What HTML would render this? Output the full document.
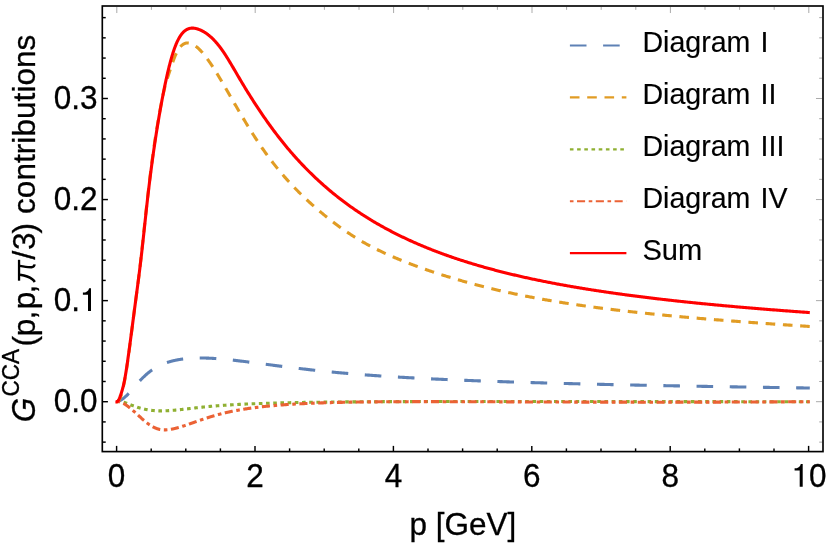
<!DOCTYPE html>
<html><head><meta charset="utf-8"><title>plot</title>
<style>
html,body{margin:0;padding:0;background:#fff;}
body{width:830px;height:547px;overflow:hidden;}
svg{display:block;will-change:transform;}
text{font-family:"Liberation Sans",sans-serif;fill:#000;}
.t{font-size:31.5px;stroke:#000;stroke-width:0.3px;}
.lg{font-size:28.6px;stroke:#000;stroke-width:0.15px;}
.tk{stroke:#000;stroke-width:1.45;}
.tg{stroke:#555;stroke-width:0.5;}
.c{fill:none;stroke-width:3.1;stroke-linejoin:round;}
</style></head><body>
<svg width="830" height="547" viewBox="0 0 830 547">
<rect width="830" height="547" fill="#fff"/>
<g>
<path class="c" stroke="#5e81b5" stroke-dasharray="16.6 16.6" stroke-dashoffset="1.6" d="M116.60,401.70L116.85,401.65L117.10,401.60L117.35,401.54L117.60,401.47L117.85,401.39L118.10,401.31L118.35,401.23L118.60,401.14L118.85,401.04L119.10,400.93L119.35,400.82L119.60,400.71L119.85,400.59L120.10,400.46L120.35,400.33L120.60,400.19L120.85,400.05L121.10,399.90L121.35,399.75L121.60,399.59L121.85,399.43L122.10,399.26L122.35,399.09L122.60,398.91L122.85,398.73L123.10,398.55L123.35,398.36L123.60,398.16L123.85,397.97L124.10,397.76L124.35,397.56L124.60,397.35L124.85,397.14L125.10,396.92L125.35,396.70L125.60,396.47L125.85,396.24L126.10,396.01L126.35,395.78L126.60,395.54L126.85,395.30L127.10,395.05L127.35,394.80L127.60,394.55L127.85,394.30L128.10,394.04L128.35,393.78L128.60,393.52L128.85,393.25L129.10,392.98L129.35,392.71L129.60,392.43L129.85,392.16L130.10,391.88L130.35,391.60L130.60,391.32L130.85,391.03L131.10,390.75L131.35,390.46L131.60,390.18L131.85,389.89L132.10,389.60L132.35,389.31L132.60,389.02L132.85,388.73L133.10,388.44L133.35,388.15L133.60,387.86L133.85,387.57L134.10,387.28L134.35,386.99L134.60,386.70L134.85,386.42L135.10,386.13L135.35,385.84L135.60,385.55L135.85,385.27L136.10,384.98L136.35,384.69L136.60,384.41L136.85,384.13L137.10,383.85L137.35,383.56L137.60,383.28L137.85,383.01L138.10,382.73L138.35,382.45L138.60,382.18L138.85,381.90L139.10,381.63L139.35,381.36L139.60,381.09L139.85,380.82L140.10,380.56L140.35,380.29L140.60,380.03L140.85,379.77L141.10,379.51L141.35,379.25L141.60,378.99L141.85,378.74L142.10,378.48L142.35,378.23L142.60,377.98L142.85,377.74L143.10,377.49L143.35,377.25L143.60,377.00L143.85,376.76L144.10,376.53L144.35,376.29L144.60,376.05L144.85,375.82L145.10,375.59L145.35,375.36L145.60,375.13L145.85,374.91L146.10,374.69L146.35,374.47L146.60,374.25L146.85,374.03L147.10,373.81L147.35,373.60L147.60,373.39L147.85,373.18L148.10,372.97L148.35,372.77L148.60,372.57L148.85,372.36L149.10,372.16L149.35,371.97L149.60,371.77L149.85,371.58L150.10,371.39L150.35,371.20L150.60,371.01L150.85,370.83L151.10,370.65L151.35,370.46L151.60,370.29L151.85,370.11L152.10,369.93L152.35,369.76L152.60,369.59L152.85,369.42L153.10,369.26L153.35,369.09L153.60,368.93L153.85,368.77L154.10,368.61L154.35,368.45L154.60,368.30L154.85,368.14L155.10,367.99L155.35,367.84L155.60,367.69L155.85,367.55L156.10,367.40L156.35,367.26L156.60,367.12L156.85,366.98L157.10,366.84L157.35,366.71L157.60,366.57L157.85,366.44L158.10,366.31L158.35,366.18L158.60,366.05L158.85,365.92L159.10,365.80L159.35,365.68L159.60,365.55L159.85,365.43L160.10,365.31L160.35,365.20L160.60,365.08L160.85,364.97L161.10,364.85L161.35,364.74L161.60,364.63L161.85,364.52L162.10,364.41L162.35,364.31L162.60,364.20L162.85,364.10L163.10,363.99L163.35,363.89L163.60,363.79L163.85,363.69L164.10,363.60L164.35,363.50L164.60,363.40L164.85,363.31L165.10,363.22L165.35,363.13L165.60,363.04L165.85,362.95L166.10,362.86L166.35,362.77L166.60,362.68L166.85,362.60L167.10,362.52L167.35,362.43L167.60,362.35L167.85,362.27L168.10,362.19L168.35,362.11L168.60,362.03L168.85,361.96L169.10,361.88L169.35,361.81L169.60,361.73L169.85,361.66L170.10,361.59L170.35,361.52L170.60,361.45L170.85,361.38L171.10,361.31L171.35,361.25L171.60,361.18L171.85,361.11L172.10,361.05L172.35,360.99L172.60,360.92L172.85,360.86L173.10,360.80L173.35,360.74L173.60,360.68L173.85,360.62L174.10,360.57L174.35,360.51L174.60,360.45L174.85,360.40L175.10,360.35L175.35,360.29L175.60,360.24L175.85,360.19L176.10,360.14L176.35,360.09L176.60,360.04L176.85,359.99L177.10,359.94L177.35,359.89L177.60,359.85L177.85,359.80L178.10,359.75L178.35,359.71L178.60,359.67L178.85,359.62L179.10,359.58L179.35,359.54L179.60,359.50L179.85,359.46L180.10,359.42L180.35,359.38L180.60,359.34L180.85,359.30L181.10,359.27L181.35,359.23L181.60,359.19L181.85,359.16L182.10,359.13L182.35,359.09L182.60,359.06L182.85,359.03L183.10,358.99L183.35,358.96L183.60,358.93L183.85,358.90L184.10,358.87L184.35,358.84L184.60,358.81L184.85,358.79L185.10,358.76L185.35,358.73L185.60,358.71L185.85,358.68L186.10,358.65L186.35,358.63L186.60,358.61L186.85,358.58L187.10,358.56L187.35,358.54L187.60,358.51L187.85,358.49L188.10,358.47L188.35,358.45L188.60,358.43L188.85,358.41L189.10,358.39L189.35,358.37L189.60,358.36L189.85,358.34L190.10,358.32L190.35,358.31L190.60,358.29L190.85,358.27L191.10,358.26L191.35,358.24L191.60,358.23L191.85,358.22L192.10,358.20L192.35,358.19L192.60,358.18L192.85,358.17L193.10,358.15L193.35,358.14L193.60,358.13L193.85,358.12L194.10,358.11L194.35,358.10L194.60,358.09L194.85,358.08L195.10,358.08L195.35,358.07L195.60,358.06L195.85,358.05L196.10,358.05L196.35,358.04L196.60,358.04L196.85,358.03L197.10,358.02L197.35,358.02L197.60,358.02L197.85,358.01L198.10,358.01L198.35,358.01L198.60,358.00L198.85,358.00L199.10,358.00L199.35,358.00L199.60,357.99L199.85,357.99L200.10,357.99L200.35,357.99L200.60,357.99L200.85,357.99L201.10,357.99L201.35,357.99L201.60,358.00L201.85,358.00L202.10,358.00L202.35,358.00L202.60,358.01L202.85,358.01L203.10,358.01L203.35,358.02L203.60,358.02L203.85,358.02L204.10,358.03L204.35,358.03L204.60,358.04L204.85,358.04L205.10,358.05L205.35,358.06L205.60,358.06L205.85,358.07L206.10,358.08L206.35,358.08L206.60,358.09L206.85,358.10L207.10,358.11L207.35,358.12L207.60,358.12L207.85,358.13L208.10,358.14L208.35,358.15L208.60,358.16L208.85,358.17L209.10,358.18L209.35,358.19L209.60,358.20L209.85,358.22L210.10,358.23L210.35,358.24L210.60,358.25L210.85,358.26L211.10,358.28L211.35,358.29L211.60,358.30L211.85,358.32L212.10,358.33L212.35,358.34L212.60,358.36L212.85,358.37L213.10,358.39L213.35,358.40L213.60,358.42L213.85,358.43L214.10,358.45L214.35,358.46L214.60,358.48L214.85,358.49L215.10,358.51L215.35,358.53L215.60,358.54L215.85,358.56L216.10,358.58L216.35,358.60L216.60,358.61L216.85,358.63L217.10,358.65L217.35,358.67L217.60,358.69L217.85,358.71L218.10,358.72L218.35,358.74L218.60,358.76L218.85,358.78L219.10,358.80L219.35,358.82L219.60,358.84L219.85,358.86L220.10,358.88L220.35,358.90L220.60,358.93L220.85,358.95L221.10,358.97L221.35,358.99L221.60,359.01L221.85,359.03L222.10,359.06L222.35,359.08L222.60,359.10L222.85,359.12L223.10,359.14L223.35,359.17L223.60,359.19L223.85,359.21L224.10,359.24L224.35,359.26L224.60,359.28L224.85,359.31L225.10,359.33L225.35,359.36L225.60,359.38L225.85,359.40L226.10,359.43L226.35,359.45L226.60,359.48L226.85,359.50L227.10,359.53L227.35,359.55L227.60,359.58L227.85,359.60L228.10,359.63L228.35,359.66L228.60,359.68L228.85,359.71L229.10,359.73L229.35,359.76L229.60,359.79L229.85,359.81L230.00,359.83L231.00,359.94L232.00,360.05L233.00,360.16L234.00,360.27L235.00,360.38L236.00,360.50L237.00,360.61L238.00,360.73L239.00,360.85L240.00,360.97L241.00,361.09L242.00,361.21L243.00,361.33L244.00,361.46L245.00,361.58L246.00,361.71L247.00,361.83L248.00,361.96L249.00,362.09L250.00,362.22L251.00,362.34L252.00,362.47L253.00,362.60L254.00,362.73L255.00,362.86L256.00,362.99L257.00,363.12L258.00,363.25L259.00,363.38L260.00,363.51L261.00,363.64L262.00,363.77L263.00,363.90L264.00,364.04L265.00,364.17L266.00,364.30L267.00,364.43L268.00,364.56L269.00,364.69L270.00,364.82L271.00,364.95L272.00,365.08L273.00,365.21L274.00,365.34L275.00,365.47L276.00,365.60L277.00,365.73L278.00,365.86L279.00,365.98L280.00,366.11L281.00,366.24L282.00,366.37L283.00,366.49L284.00,366.62L285.00,366.75L286.00,366.87L287.00,367.00L288.00,367.12L289.00,367.25L290.00,367.37L291.00,367.49L292.00,367.62L293.00,367.74L294.00,367.86L295.00,367.98L296.00,368.10L297.00,368.22L298.00,368.34L299.00,368.46L300.00,368.58L301.00,368.70L302.00,368.81L303.00,368.93L304.00,369.05L305.00,369.16L306.00,369.28L307.00,369.39L308.00,369.50L309.00,369.62L310.00,369.73L311.00,369.84L312.00,369.95L313.00,370.06L314.00,370.17L315.00,370.28L316.00,370.39L317.00,370.50L318.00,370.60L319.00,370.71L320.00,370.82L321.00,370.92L322.00,371.03L323.00,371.13L324.00,371.23L325.00,371.34L326.00,371.44L327.00,371.54L328.00,371.64L329.00,371.74L330.00,371.84L331.00,371.94L332.00,372.03L333.00,372.13L334.00,372.23L335.00,372.32L336.00,372.42L337.00,372.51L338.00,372.60L339.00,372.70L340.00,372.79L341.00,372.88L342.00,372.97L343.00,373.06L344.00,373.15L345.00,373.24L346.00,373.33L347.00,373.41L348.00,373.50L349.00,373.59L350.00,373.67L351.00,373.75L352.00,373.84L353.00,373.92L354.00,374.00L355.00,374.09L356.00,374.17L357.00,374.25L358.00,374.33L359.00,374.41L360.00,374.48L361.00,374.56L362.00,374.64L363.00,374.72L364.00,374.79L365.00,374.87L366.00,374.94L367.00,375.02L368.00,375.09L369.00,375.16L370.00,375.24L371.00,375.31L372.00,375.38L373.00,375.45L374.00,375.52L375.00,375.59L376.00,375.66L377.00,375.73L378.00,375.80L379.00,375.87L380.00,375.94L381.00,376.00L382.00,376.07L383.00,376.14L384.00,376.20L385.00,376.27L386.00,376.33L387.00,376.40L388.00,376.46L389.00,376.52L390.00,376.59L391.00,376.65L392.00,376.71L393.00,376.77L394.00,376.83L395.00,376.89L396.00,376.95L397.00,377.01L398.00,377.07L399.00,377.13L400.00,377.19L401.00,377.25L402.00,377.31L403.00,377.37L404.00,377.42L405.00,377.48L406.00,377.54L407.00,377.59L408.00,377.65L409.00,377.70L410.00,377.76L411.00,377.81L412.00,377.87L413.00,377.92L414.00,377.98L415.00,378.03L416.00,378.08L417.00,378.14L418.00,378.19L419.00,378.24L420.00,378.29L421.00,378.34L422.00,378.39L423.00,378.44L424.00,378.49L425.00,378.54L426.00,378.59L427.00,378.64L428.00,378.69L429.00,378.74L430.00,378.79L431.00,378.84L432.00,378.89L433.00,378.93L434.00,378.98L435.00,379.03L436.00,379.08L437.00,379.12L438.00,379.17L439.00,379.22L440.00,379.26L441.00,379.31L442.00,379.35L443.00,379.40L444.00,379.44L445.00,379.49L446.00,379.53L447.00,379.57L448.00,379.62L449.00,379.66L450.00,379.71L451.00,379.75L452.00,379.79L453.00,379.83L454.00,379.88L455.00,379.92L456.00,379.96L457.00,380.00L458.00,380.04L459.00,380.08L460.00,380.12L461.00,380.17L462.00,380.21L463.00,380.25L464.00,380.29L465.00,380.33L466.00,380.37L467.00,380.41L468.00,380.44L469.00,380.48L470.00,380.52L471.00,380.56L472.00,380.60L473.00,380.64L474.00,380.68L475.00,380.71L476.00,380.75L477.00,380.79L478.00,380.83L479.00,380.86L480.00,380.90L481.00,380.94L482.00,380.97L483.00,381.01L484.00,381.05L485.00,381.08L486.00,381.12L487.00,381.15L488.00,381.19L489.00,381.22L490.00,381.26L491.00,381.29L492.00,381.33L493.00,381.36L494.00,381.40L495.00,381.43L496.00,381.47L497.00,381.50L498.00,381.53L499.00,381.57L500.00,381.60L501.00,381.63L502.00,381.67L503.00,381.70L504.00,381.73L505.00,381.77L506.00,381.80L507.00,381.83L508.00,381.86L509.00,381.90L510.00,381.93L511.00,381.96L512.00,381.99L513.00,382.02L514.00,382.05L515.00,382.09L516.00,382.12L517.00,382.15L518.00,382.18L519.00,382.21L520.00,382.24L521.00,382.27L522.00,382.30L523.00,382.33L524.00,382.36L525.00,382.39L526.00,382.42L527.00,382.45L528.00,382.48L529.00,382.51L530.00,382.54L531.00,382.57L532.00,382.60L533.00,382.63L534.00,382.65L535.00,382.68L536.00,382.71L537.00,382.74L538.00,382.77L539.00,382.80L540.00,382.82L541.00,382.85L542.00,382.88L543.00,382.91L544.00,382.94L545.00,382.96L546.00,382.99L547.00,383.02L548.00,383.05L549.00,383.07L550.00,383.10L551.00,383.13L552.00,383.15L553.00,383.18L554.00,383.21L555.00,383.23L556.00,383.26L557.00,383.29L558.00,383.31L559.00,383.34L560.00,383.36L561.00,383.39L562.00,383.42L563.00,383.44L564.00,383.47L565.00,383.49L566.00,383.52L567.00,383.54L568.00,383.57L569.00,383.59L570.00,383.62L571.00,383.64L572.00,383.67L573.00,383.69L574.00,383.72L575.00,383.74L576.00,383.77L577.00,383.79L578.00,383.82L579.00,383.84L580.00,383.86L581.00,383.89L582.00,383.91L583.00,383.94L584.00,383.96L585.00,383.98L586.00,384.01L587.00,384.03L588.00,384.06L589.00,384.08L590.00,384.10L591.00,384.13L592.00,384.15L593.00,384.17L594.00,384.19L595.00,384.22L596.00,384.24L597.00,384.26L598.00,384.29L599.00,384.31L600.00,384.33L601.00,384.35L602.00,384.38L603.00,384.40L604.00,384.42L605.00,384.44L606.00,384.47L607.00,384.49L608.00,384.51L609.00,384.53L610.00,384.55L611.00,384.58L612.00,384.60L613.00,384.62L614.00,384.64L615.00,384.66L616.00,384.68L617.00,384.71L618.00,384.73L619.00,384.75L620.00,384.77L621.00,384.79L622.00,384.81L623.00,384.83L624.00,384.85L625.00,384.87L626.00,384.90L627.00,384.92L628.00,384.94L629.00,384.96L630.00,384.98L631.00,385.00L632.00,385.02L633.00,385.04L634.00,385.06L635.00,385.08L636.00,385.10L637.00,385.12L638.00,385.14L639.00,385.16L640.00,385.18L641.00,385.20L642.00,385.22L643.00,385.24L644.00,385.26L645.00,385.28L646.00,385.30L647.00,385.32L648.00,385.34L649.00,385.36L650.00,385.38L651.00,385.40L652.00,385.42L653.00,385.44L654.00,385.46L655.00,385.48L656.00,385.50L657.00,385.51L658.00,385.53L659.00,385.55L660.00,385.57L661.00,385.59L662.00,385.61L663.00,385.63L664.00,385.65L665.00,385.67L666.00,385.69L667.00,385.70L668.00,385.72L669.00,385.74L670.00,385.76L671.00,385.78L672.00,385.80L673.00,385.82L674.00,385.83L675.00,385.85L676.00,385.87L677.00,385.89L678.00,385.91L679.00,385.92L680.00,385.94L681.00,385.96L682.00,385.98L683.00,386.00L684.00,386.02L685.00,386.03L686.00,386.05L687.00,386.07L688.00,386.09L689.00,386.10L690.00,386.12L691.00,386.14L692.00,386.16L693.00,386.17L694.00,386.19L695.00,386.21L696.00,386.23L697.00,386.24L698.00,386.26L699.00,386.28L700.00,386.30L701.00,386.31L702.00,386.33L703.00,386.35L704.00,386.37L705.00,386.38L706.00,386.40L707.00,386.42L708.00,386.43L709.00,386.45L710.00,386.47L711.00,386.49L712.00,386.50L713.00,386.52L714.00,386.54L715.00,386.55L716.00,386.57L717.00,386.59L718.00,386.60L719.00,386.62L720.00,386.64L721.00,386.65L722.00,386.67L723.00,386.69L724.00,386.70L725.00,386.72L726.00,386.74L727.00,386.75L728.00,386.77L729.00,386.78L730.00,386.80L731.00,386.82L732.00,386.83L733.00,386.85L734.00,386.87L735.00,386.88L736.00,386.90L737.00,386.91L738.00,386.93L739.00,386.95L740.00,386.96L741.00,386.98L742.00,386.99L743.00,387.01L744.00,387.03L745.00,387.04L746.00,387.06L747.00,387.07L748.00,387.09L749.00,387.11L750.00,387.12L751.00,387.14L752.00,387.15L753.00,387.17L754.00,387.18L755.00,387.20L756.00,387.21L757.00,387.23L758.00,387.25L759.00,387.26L760.00,387.28L761.00,387.29L762.00,387.31L763.00,387.32L764.00,387.34L765.00,387.35L766.00,387.37L767.00,387.38L768.00,387.40L769.00,387.41L770.00,387.43L771.00,387.45L772.00,387.46L773.00,387.48L774.00,387.49L775.00,387.51L776.00,387.52L777.00,387.54L778.00,387.55L779.00,387.57L780.00,387.58L781.00,387.60L782.00,387.61L783.00,387.63L784.00,387.64L785.00,387.66L786.00,387.67L787.00,387.69L788.00,387.70L789.00,387.71L790.00,387.73L791.00,387.74L792.00,387.76L793.00,387.77L794.00,387.79L795.00,387.80L796.00,387.82L797.00,387.83L798.00,387.85L799.00,387.86L800.00,387.88L801.00,387.89L802.00,387.91L803.00,387.92L804.00,387.93L805.00,387.95L806.00,387.96L807.00,387.98L808.00,387.99L809.00,388.01L809.80,388.02"/>
<path class="c" stroke="#e19c24" stroke-dasharray="9.6 7.7" d="M116.60,401.70L116.85,401.74L117.10,401.74L117.35,401.69L117.60,401.59L117.85,401.45L118.10,401.27L118.35,401.03L118.60,400.75L118.85,400.43L119.10,400.06L119.35,399.64L119.60,399.17L119.85,398.67L120.10,398.11L120.35,397.51L120.60,396.86L120.85,396.17L121.10,395.44L121.35,394.66L121.60,393.84L121.85,392.97L122.10,392.07L122.35,391.12L122.60,390.12L122.85,389.09L123.10,388.01L123.35,386.90L123.60,385.74L123.85,384.54L124.10,383.31L124.35,382.03L124.60,380.72L124.85,379.36L125.10,377.97L125.35,376.55L125.60,375.08L125.85,373.58L126.10,372.05L126.35,370.48L126.60,368.87L126.85,367.23L127.10,365.56L127.35,363.85L127.60,362.11L127.85,360.35L128.10,358.56L128.35,356.74L128.60,354.91L128.85,353.05L129.10,351.18L129.35,349.29L129.60,347.39L129.85,345.48L130.10,343.56L130.35,341.62L130.60,339.69L130.85,337.74L131.10,335.79L131.35,333.84L131.60,331.88L131.85,329.93L132.10,327.97L132.35,326.01L132.60,324.06L132.85,322.11L133.10,320.17L133.35,318.23L133.60,316.29L133.85,314.37L134.10,312.45L134.35,310.53L134.60,308.63L134.85,306.74L135.10,304.85L135.35,302.98L135.60,301.11L135.85,299.25L136.10,297.39L136.35,295.52L136.60,293.65L136.85,291.78L137.10,289.89L137.35,288.00L137.60,286.09L137.85,284.16L138.10,282.22L138.35,280.26L138.60,278.28L138.85,276.27L139.10,274.24L139.35,272.19L139.60,270.10L139.85,267.99L140.10,265.85L140.35,263.68L140.60,261.48L140.85,259.25L141.10,257.01L141.35,254.74L141.60,252.46L141.85,250.16L142.10,247.85L142.35,245.53L142.60,243.20L142.85,240.86L143.10,238.52L143.35,236.18L143.60,233.84L143.85,231.49L144.10,229.16L144.35,226.82L144.60,224.49L144.85,222.17L145.10,219.86L145.35,217.56L145.60,215.27L145.85,212.99L146.10,210.72L146.35,208.46L146.60,206.22L146.85,203.99L147.10,201.77L147.35,199.56L147.60,197.37L147.85,195.20L148.10,193.04L148.35,190.89L148.60,188.76L148.85,186.64L149.10,184.54L149.35,182.46L149.60,180.39L149.85,178.34L150.10,176.31L150.35,174.29L150.60,172.29L150.85,170.31L151.10,168.35L151.35,166.40L151.60,164.48L151.85,162.57L152.10,160.68L152.35,158.80L152.60,156.95L152.85,155.12L153.10,153.30L153.35,151.50L153.60,149.73L153.85,147.97L154.10,146.23L154.35,144.52L154.60,142.82L154.85,141.14L155.10,139.48L155.35,137.84L155.60,136.23L155.85,134.63L156.10,133.04L156.35,131.48L156.60,129.93L156.85,128.40L157.10,126.89L157.35,125.39L157.60,123.90L157.85,122.44L158.10,120.98L158.35,119.54L158.60,118.11L158.85,116.70L159.10,115.29L159.35,113.90L159.60,112.53L159.85,111.16L160.10,109.80L160.35,108.46L160.60,107.12L160.85,105.80L161.10,104.50L161.35,103.20L161.60,101.93L161.85,100.67L162.10,99.43L162.35,98.20L162.60,97.00L162.85,95.82L163.10,94.65L163.35,93.51L163.60,92.39L163.85,91.30L164.10,90.23L164.35,89.18L164.60,88.16L164.85,87.16L165.10,86.19L165.35,85.24L165.60,84.32L165.85,83.43L166.10,82.55L166.35,81.69L166.60,80.85L166.85,80.03L167.10,79.22L167.35,78.42L167.60,77.63L167.85,76.86L168.10,76.09L168.35,75.33L168.60,74.57L168.85,73.82L169.10,73.08L169.35,72.33L169.60,71.59L169.85,70.84L170.10,70.09L170.35,69.35L170.60,68.60L170.85,67.85L171.10,67.11L171.35,66.36L171.60,65.62L171.85,64.89L172.10,64.15L172.35,63.43L172.60,62.71L172.85,61.99L173.10,61.28L173.35,60.58L173.60,59.89L173.85,59.21L174.10,58.55L174.35,57.89L174.60,57.25L174.85,56.62L175.10,56.01L175.35,55.42L175.60,54.84L175.85,54.28L176.10,53.74L176.35,53.21L176.60,52.70L176.85,52.21L177.10,51.73L177.35,51.27L177.60,50.82L177.85,50.39L178.10,49.97L178.35,49.56L178.60,49.17L178.85,48.80L179.10,48.44L179.35,48.09L179.60,47.75L179.85,47.43L180.10,47.12L180.35,46.83L180.60,46.55L180.85,46.27L181.10,46.02L181.35,45.77L181.60,45.53L181.85,45.31L182.10,45.10L182.35,44.89L182.60,44.70L182.85,44.52L183.10,44.36L183.35,44.20L183.60,44.05L183.85,43.91L184.10,43.78L184.35,43.66L184.60,43.55L184.85,43.45L185.10,43.36L185.35,43.28L185.60,43.21L185.85,43.14L186.10,43.09L186.35,43.04L186.60,43.00L186.85,42.97L187.10,42.95L187.35,42.94L187.60,42.93L187.85,42.93L188.10,42.94L188.35,42.95L188.60,42.98L188.85,43.01L189.10,43.04L189.35,43.09L189.60,43.14L189.85,43.19L190.10,43.26L190.35,43.33L190.60,43.40L190.85,43.48L191.10,43.57L191.35,43.67L191.60,43.77L191.85,43.87L192.10,43.98L192.35,44.10L192.60,44.22L192.85,44.35L193.10,44.48L193.35,44.62L193.60,44.76L193.85,44.91L194.10,45.07L194.35,45.23L194.60,45.39L194.85,45.56L195.10,45.73L195.35,45.91L195.60,46.09L195.85,46.28L196.10,46.47L196.35,46.67L196.60,46.87L196.85,47.08L197.10,47.29L197.35,47.50L197.60,47.72L197.85,47.94L198.10,48.17L198.35,48.40L198.60,48.64L198.85,48.87L199.10,49.12L199.35,49.36L199.60,49.61L199.85,49.87L200.10,50.12L200.35,50.38L200.60,50.65L200.85,50.92L201.10,51.19L201.35,51.46L201.60,51.74L201.85,52.02L202.10,52.31L202.35,52.59L202.60,52.88L202.85,53.18L203.10,53.47L203.35,53.77L203.60,54.08L203.85,54.38L204.10,54.69L204.35,55.00L204.60,55.32L204.85,55.63L205.10,55.95L205.35,56.28L205.60,56.60L205.85,56.93L206.10,57.26L206.35,57.59L206.60,57.93L206.85,58.26L207.10,58.60L207.35,58.94L207.60,59.29L207.85,59.64L208.10,59.98L208.35,60.34L208.60,60.69L208.85,61.04L209.10,61.40L209.35,61.76L209.60,62.12L209.85,62.49L210.10,62.85L210.35,63.22L210.60,63.59L210.85,63.96L211.10,64.33L211.35,64.71L211.60,65.08L211.85,65.46L212.10,65.84L212.35,66.22L212.60,66.61L212.85,66.99L213.10,67.38L213.35,67.76L213.60,68.15L213.85,68.54L214.10,68.94L214.35,69.33L214.60,69.73L214.85,70.12L215.10,70.52L215.35,70.92L215.60,71.32L215.85,71.72L216.10,72.12L216.35,72.53L216.60,72.93L216.85,73.34L217.10,73.75L217.35,74.15L217.60,74.56L217.85,74.97L218.10,75.39L218.35,75.80L218.60,76.21L218.85,76.63L219.10,77.04L219.35,77.46L219.60,77.87L219.85,78.29L220.10,78.71L220.35,79.13L220.60,79.55L220.85,79.97L221.10,80.39L221.35,80.81L221.60,81.24L221.85,81.66L222.10,82.08L222.35,82.51L222.60,82.93L222.85,83.36L223.10,83.79L223.35,84.21L223.60,84.64L223.85,85.07L224.10,85.50L224.35,85.93L224.60,86.35L224.85,86.78L225.10,87.21L225.35,87.64L225.60,88.07L225.85,88.51L226.10,88.94L226.35,89.37L226.60,89.80L226.85,90.23L227.10,90.66L227.35,91.10L227.60,91.53L227.85,91.96L228.10,92.39L228.35,92.83L228.60,93.26L228.85,93.69L229.10,94.13L229.35,94.56L229.60,95.00L229.85,95.43L230.00,95.69L231.00,97.42L232.00,99.16L233.00,100.89L234.00,102.62L235.00,104.35L236.00,106.07L237.00,107.79L238.00,109.51L239.00,111.21L240.00,112.91L241.00,114.61L242.00,116.29L243.00,117.97L244.00,119.64L245.00,121.30L246.00,122.95L247.00,124.60L248.00,126.23L249.00,127.85L250.00,129.46L251.00,131.05L252.00,132.64L253.00,134.22L254.00,135.78L255.00,137.33L256.00,138.87L257.00,140.39L258.00,141.90L259.00,143.40L260.00,144.88L261.00,146.35L262.00,147.81L263.00,149.25L264.00,150.67L265.00,152.09L266.00,153.48L267.00,154.87L268.00,156.24L269.00,157.59L270.00,158.93L271.00,160.25L272.00,161.56L273.00,162.85L274.00,164.13L275.00,165.40L276.00,166.65L277.00,167.89L278.00,169.12L279.00,170.33L280.00,171.54L281.00,172.73L282.00,173.90L283.00,175.07L284.00,176.22L285.00,177.37L286.00,178.50L287.00,179.62L288.00,180.73L289.00,181.83L290.00,182.92L291.00,184.00L292.00,185.07L293.00,186.12L294.00,187.17L295.00,188.21L296.00,189.24L297.00,190.26L298.00,191.28L299.00,192.28L300.00,193.27L301.00,194.26L302.00,195.23L303.00,196.20L304.00,197.16L305.00,198.12L306.00,199.06L307.00,200.00L308.00,200.92L309.00,201.85L310.00,202.76L311.00,203.67L312.00,204.56L313.00,205.46L314.00,206.34L315.00,207.22L316.00,208.09L317.00,208.95L318.00,209.81L319.00,210.66L320.00,211.51L321.00,212.35L322.00,213.18L323.00,214.01L324.00,214.83L325.00,215.64L326.00,216.45L327.00,217.25L328.00,218.05L329.00,218.84L330.00,219.63L331.00,220.41L332.00,221.18L333.00,221.95L334.00,222.71L335.00,223.47L336.00,224.22L337.00,224.96L338.00,225.70L339.00,226.43L340.00,227.16L341.00,227.88L342.00,228.59L343.00,229.30L344.00,230.00L345.00,230.69L346.00,231.38L347.00,232.06L348.00,232.74L349.00,233.40L350.00,234.07L351.00,234.72L352.00,235.37L353.00,236.01L354.00,236.65L355.00,237.28L356.00,237.90L357.00,238.52L358.00,239.13L359.00,239.73L360.00,240.33L361.00,240.92L362.00,241.50L363.00,242.08L364.00,242.65L365.00,243.21L366.00,243.77L367.00,244.32L368.00,244.86L369.00,245.40L370.00,245.93L371.00,246.46L372.00,246.98L373.00,247.50L374.00,248.01L375.00,248.52L376.00,249.02L377.00,249.51L378.00,250.00L379.00,250.49L380.00,250.97L381.00,251.45L382.00,251.92L383.00,252.39L384.00,252.85L385.00,253.31L386.00,253.77L387.00,254.22L388.00,254.67L389.00,255.11L390.00,255.56L391.00,255.99L392.00,256.43L393.00,256.86L394.00,257.29L395.00,257.71L396.00,258.13L397.00,258.55L398.00,258.97L399.00,259.38L400.00,259.79L401.00,260.20L402.00,260.60L403.00,261.00L404.00,261.40L405.00,261.80L406.00,262.19L407.00,262.58L408.00,262.97L409.00,263.36L410.00,263.74L411.00,264.13L412.00,264.51L413.00,264.88L414.00,265.26L415.00,265.63L416.00,266.00L417.00,266.37L418.00,266.73L419.00,267.10L420.00,267.46L421.00,267.82L422.00,268.17L423.00,268.53L424.00,268.88L425.00,269.23L426.00,269.58L427.00,269.92L428.00,270.27L429.00,270.61L430.00,270.95L431.00,271.29L432.00,271.62L433.00,271.96L434.00,272.29L435.00,272.62L436.00,272.95L437.00,273.27L438.00,273.60L439.00,273.92L440.00,274.24L441.00,274.56L442.00,274.88L443.00,275.19L444.00,275.51L445.00,275.82L446.00,276.13L447.00,276.44L448.00,276.74L449.00,277.05L450.00,277.35L451.00,277.65L452.00,277.95L453.00,278.25L454.00,278.55L455.00,278.84L456.00,279.14L457.00,279.43L458.00,279.72L459.00,280.01L460.00,280.30L461.00,280.58L462.00,280.87L463.00,281.15L464.00,281.43L465.00,281.71L466.00,281.99L467.00,282.27L468.00,282.54L469.00,282.82L470.00,283.09L471.00,283.36L472.00,283.63L473.00,283.90L474.00,284.17L475.00,284.43L476.00,284.70L477.00,284.96L478.00,285.22L479.00,285.48L480.00,285.74L481.00,286.00L482.00,286.25L483.00,286.51L484.00,286.76L485.00,287.01L486.00,287.26L487.00,287.51L488.00,287.76L489.00,288.00L490.00,288.25L491.00,288.49L492.00,288.74L493.00,288.98L494.00,289.21L495.00,289.45L496.00,289.69L497.00,289.92L498.00,290.16L499.00,290.39L500.00,290.62L501.00,290.85L502.00,291.08L503.00,291.31L504.00,291.53L505.00,291.76L506.00,291.98L507.00,292.20L508.00,292.42L509.00,292.64L510.00,292.86L511.00,293.08L512.00,293.29L513.00,293.51L514.00,293.72L515.00,293.93L516.00,294.14L517.00,294.35L518.00,294.56L519.00,294.76L520.00,294.97L521.00,295.17L522.00,295.37L523.00,295.57L524.00,295.77L525.00,295.97L526.00,296.17L527.00,296.37L528.00,296.56L529.00,296.76L530.00,296.95L531.00,297.14L532.00,297.33L533.00,297.52L534.00,297.71L535.00,297.89L536.00,298.08L537.00,298.26L538.00,298.45L539.00,298.63L540.00,298.81L541.00,298.99L542.00,299.17L543.00,299.35L544.00,299.52L545.00,299.70L546.00,299.87L547.00,300.05L548.00,300.22L549.00,300.39L550.00,300.56L551.00,300.73L552.00,300.90L553.00,301.07L554.00,301.23L555.00,301.40L556.00,301.56L557.00,301.73L558.00,301.89L559.00,302.05L560.00,302.21L561.00,302.37L562.00,302.53L563.00,302.69L564.00,302.85L565.00,303.01L566.00,303.16L567.00,303.32L568.00,303.47L569.00,303.62L570.00,303.78L571.00,303.93L572.00,304.08L573.00,304.23L574.00,304.38L575.00,304.52L576.00,304.67L577.00,304.82L578.00,304.96L579.00,305.11L580.00,305.25L581.00,305.40L582.00,305.54L583.00,305.68L584.00,305.82L585.00,305.96L586.00,306.10L587.00,306.24L588.00,306.38L589.00,306.52L590.00,306.65L591.00,306.79L592.00,306.92L593.00,307.06L594.00,307.19L595.00,307.33L596.00,307.46L597.00,307.59L598.00,307.72L599.00,307.85L600.00,307.98L601.00,308.11L602.00,308.24L603.00,308.37L604.00,308.50L605.00,308.62L606.00,308.75L607.00,308.87L608.00,309.00L609.00,309.12L610.00,309.25L611.00,309.37L612.00,309.49L613.00,309.61L614.00,309.74L615.00,309.86L616.00,309.98L617.00,310.10L618.00,310.21L619.00,310.33L620.00,310.45L621.00,310.57L622.00,310.68L623.00,310.80L624.00,310.92L625.00,311.03L626.00,311.15L627.00,311.26L628.00,311.37L629.00,311.49L630.00,311.60L631.00,311.71L632.00,311.82L633.00,311.93L634.00,312.04L635.00,312.15L636.00,312.26L637.00,312.37L638.00,312.48L639.00,312.59L640.00,312.70L641.00,312.80L642.00,312.91L643.00,313.02L644.00,313.12L645.00,313.23L646.00,313.33L647.00,313.44L648.00,313.54L649.00,313.65L650.00,313.75L651.00,313.85L652.00,313.95L653.00,314.05L654.00,314.16L655.00,314.26L656.00,314.36L657.00,314.46L658.00,314.56L659.00,314.66L660.00,314.76L661.00,314.85L662.00,314.95L663.00,315.05L664.00,315.15L665.00,315.24L666.00,315.34L667.00,315.44L668.00,315.53L669.00,315.63L670.00,315.72L671.00,315.82L672.00,315.91L673.00,316.01L674.00,316.10L675.00,316.19L676.00,316.29L677.00,316.38L678.00,316.47L679.00,316.56L680.00,316.66L681.00,316.75L682.00,316.84L683.00,316.93L684.00,317.02L685.00,317.11L686.00,317.20L687.00,317.29L688.00,317.38L689.00,317.46L690.00,317.55L691.00,317.64L692.00,317.73L693.00,317.82L694.00,317.90L695.00,317.99L696.00,318.08L697.00,318.16L698.00,318.25L699.00,318.33L700.00,318.42L701.00,318.50L702.00,318.59L703.00,318.67L704.00,318.76L705.00,318.84L706.00,318.93L707.00,319.01L708.00,319.09L709.00,319.17L710.00,319.26L711.00,319.34L712.00,319.42L713.00,319.50L714.00,319.58L715.00,319.67L716.00,319.75L717.00,319.83L718.00,319.91L719.00,319.99L720.00,320.07L721.00,320.15L722.00,320.23L723.00,320.31L724.00,320.39L725.00,320.47L726.00,320.54L727.00,320.62L728.00,320.70L729.00,320.78L730.00,320.86L731.00,320.93L732.00,321.01L733.00,321.09L734.00,321.16L735.00,321.24L736.00,321.32L737.00,321.39L738.00,321.47L739.00,321.55L740.00,321.62L741.00,321.70L742.00,321.77L743.00,321.85L744.00,321.92L745.00,322.00L746.00,322.07L747.00,322.14L748.00,322.22L749.00,322.29L750.00,322.37L751.00,322.44L752.00,322.51L753.00,322.59L754.00,322.66L755.00,322.73L756.00,322.80L757.00,322.88L758.00,322.95L759.00,323.02L760.00,323.09L761.00,323.16L762.00,323.23L763.00,323.31L764.00,323.38L765.00,323.45L766.00,323.52L767.00,323.59L768.00,323.66L769.00,323.73L770.00,323.80L771.00,323.87L772.00,323.94L773.00,324.01L774.00,324.08L775.00,324.15L776.00,324.22L777.00,324.29L778.00,324.36L779.00,324.42L780.00,324.49L781.00,324.56L782.00,324.63L783.00,324.70L784.00,324.77L785.00,324.83L786.00,324.90L787.00,324.97L788.00,325.04L789.00,325.10L790.00,325.17L791.00,325.24L792.00,325.31L793.00,325.37L794.00,325.44L795.00,325.51L796.00,325.57L797.00,325.64L798.00,325.71L799.00,325.77L800.00,325.84L801.00,325.90L802.00,325.97L803.00,326.03L804.00,326.10L805.00,326.17L806.00,326.23L807.00,326.30L808.00,326.36L809.00,326.43L809.80,326.48"/>
<path class="c" stroke="#8fb032" stroke-dasharray="3.6 3.6" d="M116.60,401.70L116.85,401.61L117.10,401.54L117.35,401.48L117.60,401.43L117.85,401.38L118.10,401.35L118.35,401.33L118.60,401.31L118.85,401.30L119.10,401.30L119.35,401.31L119.60,401.32L119.85,401.34L120.10,401.37L120.35,401.40L120.60,401.44L120.85,401.48L121.10,401.52L121.35,401.57L121.60,401.63L121.85,401.68L122.10,401.74L122.35,401.81L122.60,401.87L122.85,401.94L123.10,402.02L123.35,402.09L123.60,402.17L123.85,402.25L124.10,402.33L124.35,402.41L124.60,402.50L124.85,402.59L125.10,402.67L125.35,402.76L125.60,402.85L125.85,402.95L126.10,403.04L126.35,403.13L126.60,403.23L126.85,403.32L127.10,403.42L127.35,403.51L127.60,403.61L127.85,403.71L128.10,403.81L128.35,403.90L128.60,404.00L128.85,404.10L129.10,404.20L129.35,404.30L129.60,404.39L129.85,404.49L130.10,404.59L130.35,404.69L130.60,404.79L130.85,404.88L131.10,404.98L131.35,405.08L131.60,405.17L131.85,405.27L132.10,405.36L132.35,405.46L132.60,405.55L132.85,405.65L133.10,405.74L133.35,405.83L133.60,405.93L133.85,406.02L134.10,406.11L134.35,406.20L134.60,406.29L134.85,406.38L135.10,406.47L135.35,406.55L135.60,406.64L135.85,406.73L136.10,406.81L136.35,406.90L136.60,406.98L136.85,407.06L137.10,407.14L137.35,407.23L137.60,407.31L137.85,407.39L138.10,407.46L138.35,407.54L138.60,407.62L138.85,407.69L139.10,407.77L139.35,407.84L139.60,407.92L139.85,407.99L140.10,408.06L140.35,408.13L140.60,408.20L140.85,408.27L141.10,408.34L141.35,408.40L141.60,408.47L141.85,408.54L142.10,408.60L142.35,408.66L142.60,408.73L142.85,408.79L143.10,408.85L143.35,408.91L143.60,408.97L143.85,409.02L144.10,409.08L144.35,409.14L144.60,409.19L144.85,409.24L145.10,409.30L145.35,409.35L145.60,409.40L145.85,409.45L146.10,409.50L146.35,409.55L146.60,409.59L146.85,409.64L147.10,409.69L147.35,409.73L147.60,409.77L147.85,409.82L148.10,409.86L148.35,409.90L148.60,409.94L148.85,409.98L149.10,410.02L149.35,410.05L149.60,410.09L149.85,410.13L150.10,410.16L150.35,410.19L150.60,410.23L150.85,410.26L151.10,410.29L151.35,410.32L151.60,410.35L151.85,410.38L152.10,410.41L152.35,410.43L152.60,410.46L152.85,410.48L153.10,410.51L153.35,410.53L153.60,410.55L153.85,410.58L154.10,410.60L154.35,410.62L154.60,410.63L154.85,410.65L155.10,410.67L155.35,410.69L155.60,410.70L155.85,410.72L156.10,410.73L156.35,410.75L156.60,410.76L156.85,410.77L157.10,410.78L157.35,410.79L157.60,410.80L157.85,410.81L158.10,410.82L158.35,410.82L158.60,410.83L158.85,410.84L159.10,410.84L159.35,410.85L159.60,410.85L159.85,410.85L160.10,410.86L160.35,410.86L160.60,410.86L160.85,410.86L161.10,410.86L161.35,410.86L161.60,410.86L161.85,410.86L162.10,410.85L162.35,410.85L162.60,410.85L162.85,410.85L163.10,410.84L163.35,410.84L163.60,410.83L163.85,410.82L164.10,410.82L164.35,410.81L164.60,410.80L164.85,410.80L165.10,410.79L165.35,410.78L165.60,410.77L165.85,410.76L166.10,410.75L166.35,410.74L166.60,410.73L166.85,410.72L167.10,410.71L167.35,410.69L167.60,410.68L167.85,410.67L168.10,410.65L168.35,410.64L168.60,410.63L168.85,410.61L169.10,410.60L169.35,410.58L169.60,410.57L169.85,410.55L170.10,410.53L170.35,410.52L170.60,410.50L170.85,410.48L171.10,410.47L171.35,410.45L171.60,410.43L171.85,410.41L172.10,410.39L172.35,410.37L172.60,410.35L172.85,410.33L173.10,410.31L173.35,410.29L173.60,410.27L173.85,410.25L174.10,410.23L174.35,410.21L174.60,410.19L174.85,410.17L175.10,410.14L175.35,410.12L175.60,410.10L175.85,410.08L176.10,410.05L176.35,410.03L176.60,410.01L176.85,409.98L177.10,409.96L177.35,409.93L177.60,409.91L177.85,409.88L178.10,409.86L178.35,409.83L178.60,409.81L178.85,409.78L179.10,409.76L179.35,409.73L179.60,409.70L179.85,409.68L180.10,409.65L180.35,409.63L180.60,409.60L180.85,409.57L181.10,409.54L181.35,409.52L181.60,409.49L181.85,409.46L182.10,409.44L182.35,409.41L182.60,409.38L182.85,409.35L183.10,409.32L183.35,409.30L183.60,409.27L183.85,409.24L184.10,409.21L184.35,409.18L184.60,409.15L184.85,409.13L185.10,409.10L185.35,409.07L185.60,409.04L185.85,409.01L186.10,408.98L186.35,408.95L186.60,408.92L186.85,408.89L187.10,408.87L187.35,408.84L187.60,408.81L187.85,408.78L188.10,408.75L188.35,408.72L188.60,408.69L188.85,408.66L189.10,408.63L189.35,408.60L189.60,408.57L189.85,408.54L190.10,408.52L190.35,408.49L190.60,408.46L190.85,408.43L191.10,408.40L191.35,408.37L191.60,408.34L191.85,408.31L192.10,408.28L192.35,408.25L192.60,408.22L192.85,408.19L193.10,408.17L193.35,408.14L193.60,408.11L193.85,408.08L194.10,408.05L194.35,408.02L194.60,407.99L194.85,407.96L195.10,407.94L195.35,407.91L195.60,407.88L195.85,407.85L196.10,407.82L196.35,407.79L196.60,407.76L196.85,407.74L197.10,407.71L197.35,407.68L197.60,407.65L197.85,407.62L198.10,407.60L198.35,407.57L198.60,407.54L198.85,407.51L199.10,407.49L199.35,407.46L199.60,407.43L199.85,407.40L200.10,407.38L200.35,407.35L200.60,407.32L200.85,407.30L201.10,407.27L201.35,407.24L201.60,407.22L201.85,407.19L202.10,407.16L202.35,407.14L202.60,407.11L202.85,407.09L203.10,407.06L203.35,407.03L203.60,407.01L203.85,406.98L204.10,406.96L204.35,406.93L204.60,406.91L204.85,406.88L205.10,406.86L205.35,406.83L205.60,406.81L205.85,406.78L206.10,406.76L206.35,406.73L206.60,406.71L206.85,406.68L207.10,406.66L207.35,406.64L207.60,406.61L207.85,406.59L208.10,406.57L208.35,406.54L208.60,406.52L208.85,406.50L209.10,406.47L209.35,406.45L209.60,406.43L209.85,406.40L210.10,406.38L210.35,406.36L210.60,406.34L210.85,406.31L211.10,406.29L211.35,406.27L211.60,406.25L211.85,406.23L212.10,406.21L212.35,406.18L212.60,406.16L212.85,406.14L213.10,406.12L213.35,406.10L213.60,406.08L213.85,406.06L214.10,406.04L214.35,406.02L214.60,405.99L214.85,405.97L215.10,405.95L215.35,405.93L215.60,405.91L215.85,405.89L216.10,405.87L216.35,405.85L216.60,405.83L216.85,405.81L217.10,405.79L217.35,405.78L217.60,405.76L217.85,405.74L218.10,405.72L218.35,405.70L218.60,405.68L218.85,405.66L219.10,405.64L219.35,405.62L219.60,405.60L219.85,405.59L220.10,405.57L220.35,405.55L220.60,405.53L220.85,405.51L221.10,405.49L221.35,405.48L221.60,405.46L221.85,405.44L222.10,405.42L222.35,405.41L222.60,405.39L222.85,405.37L223.10,405.35L223.35,405.34L223.60,405.32L223.85,405.30L224.10,405.29L224.35,405.27L224.60,405.25L224.85,405.23L225.10,405.22L225.35,405.20L225.60,405.18L225.85,405.17L226.10,405.15L226.35,405.14L226.60,405.12L226.85,405.10L227.10,405.09L227.35,405.07L227.60,405.06L227.85,405.04L228.10,405.02L228.35,405.01L228.60,404.99L228.85,404.98L229.10,404.96L229.35,404.95L229.60,404.93L229.85,404.92L230.00,404.91L231.00,404.85L232.00,404.79L233.00,404.73L234.00,404.67L235.00,404.62L236.00,404.56L237.00,404.51L238.00,404.46L239.00,404.41L240.00,404.36L241.00,404.31L242.00,404.26L243.00,404.21L244.00,404.16L245.00,404.12L246.00,404.07L247.00,404.03L248.00,403.98L249.00,403.94L250.00,403.90L251.00,403.85L252.00,403.81L253.00,403.77L254.00,403.73L255.00,403.70L256.00,403.66L257.00,403.62L258.00,403.58L259.00,403.55L260.00,403.51L261.00,403.48L262.00,403.44L263.00,403.41L264.00,403.38L265.00,403.34L266.00,403.31L267.00,403.28L268.00,403.25L269.00,403.22L270.00,403.19L271.00,403.16L272.00,403.13L273.00,403.10L274.00,403.07L275.00,403.05L276.00,403.02L277.00,402.99L278.00,402.97L279.00,402.94L280.00,402.92L281.00,402.89L282.00,402.87L283.00,402.84L284.00,402.82L285.00,402.80L286.00,402.77L287.00,402.75L288.00,402.73L289.00,402.71L290.00,402.69L291.00,402.66L292.00,402.64L293.00,402.62L294.00,402.60L295.00,402.58L296.00,402.56L297.00,402.54L298.00,402.53L299.00,402.51L300.00,402.49L301.00,402.47L302.00,402.45L303.00,402.44L304.00,402.42L305.00,402.40L306.00,402.39L307.00,402.37L308.00,402.35L309.00,402.34L310.00,402.32L311.00,402.31L312.00,402.29L313.00,402.28L314.00,402.26L315.00,402.25L316.00,402.24L317.00,402.22L318.00,402.21L319.00,402.20L320.00,402.18L321.00,402.17L322.00,402.16L323.00,402.14L324.00,402.13L325.00,402.12L326.00,402.11L327.00,402.10L328.00,402.08L329.00,402.07L330.00,402.06L331.00,402.05L332.00,402.04L333.00,402.03L334.00,402.02L335.00,402.01L336.00,402.00L337.00,401.99L338.00,401.98L339.00,401.97L340.00,401.96L341.00,401.95L342.00,401.94L343.00,401.93L344.00,401.92L345.00,401.92L346.00,401.91L347.00,401.90L348.00,401.89L349.00,401.88L350.00,401.87L351.00,401.87L352.00,401.86L353.00,401.85L354.00,401.84L355.00,401.84L356.00,401.83L357.00,401.82L358.00,401.81L359.00,401.81L360.00,401.80L361.00,401.79L362.00,401.79L363.00,401.78L364.00,401.78L365.00,401.77L366.00,401.76L367.00,401.76L368.00,401.75L369.00,401.75L370.00,401.74L371.00,401.73L372.00,401.73L373.00,401.72L374.00,401.72L375.00,401.71L376.00,401.71L377.00,401.70L378.00,401.70L379.00,401.69L380.00,401.69L381.00,401.68L382.00,401.68L383.00,401.67L384.00,401.67L385.00,401.67L386.00,401.66L387.00,401.66L388.00,401.65L389.00,401.65L390.00,401.65L391.00,401.64L392.00,401.64L393.00,401.63L394.00,401.63L395.00,401.63L396.00,401.62L397.00,401.62L398.00,401.62L399.00,401.61L400.00,401.61L401.00,401.61L402.00,401.60L403.00,401.60L404.00,401.60L405.00,401.59L406.00,401.59L407.00,401.59L408.00,401.59L409.00,401.58L410.00,401.58L411.00,401.58L412.00,401.58L413.00,401.57L414.00,401.57L415.00,401.57L416.00,401.57L417.00,401.56L418.00,401.56L419.00,401.56L420.00,401.56L421.00,401.56L422.00,401.55L423.00,401.55L424.00,401.55L425.00,401.55L426.00,401.55L427.00,401.54L428.00,401.54L429.00,401.54L430.00,401.54L431.00,401.54L432.00,401.54L433.00,401.53L434.00,401.53L435.00,401.53L436.00,401.53L437.00,401.53L438.00,401.53L439.00,401.53L440.00,401.52L441.00,401.52L442.00,401.52L443.00,401.52L444.00,401.52L445.00,401.52L446.00,401.52L447.00,401.52L448.00,401.52L449.00,401.52L450.00,401.51L451.00,401.51L452.00,401.51L453.00,401.51L454.00,401.51L455.00,401.51L456.00,401.51L457.00,401.51L458.00,401.51L459.00,401.51L460.00,401.51L461.00,401.51L462.00,401.51L463.00,401.51L464.00,401.50L465.00,401.50L466.00,401.50L467.00,401.50L468.00,401.50L469.00,401.50L470.00,401.50L471.00,401.50L472.00,401.50L473.00,401.50L474.00,401.50L475.00,401.50L476.00,401.50L477.00,401.50L478.00,401.50L479.00,401.50L480.00,401.50L481.00,401.50L482.00,401.50L483.00,401.50L484.00,401.50L485.00,401.50L486.00,401.50L487.00,401.50L488.00,401.50L489.00,401.50L490.00,401.50L491.00,401.50L492.00,401.50L493.00,401.50L494.00,401.50L495.00,401.50L496.00,401.50L497.00,401.50L498.00,401.50L499.00,401.50L500.00,401.50L501.00,401.50L502.00,401.50L503.00,401.50L504.00,401.50L505.00,401.50L506.00,401.50L507.00,401.50L508.00,401.50L509.00,401.50L510.00,401.50L511.00,401.50L512.00,401.51L513.00,401.51L514.00,401.51L515.00,401.51L516.00,401.51L517.00,401.51L518.00,401.51L519.00,401.51L520.00,401.51L521.00,401.51L522.00,401.51L523.00,401.51L524.00,401.51L525.00,401.51L526.00,401.51L527.00,401.51L528.00,401.51L529.00,401.51L530.00,401.51L531.00,401.51L532.00,401.52L533.00,401.52L534.00,401.52L535.00,401.52L536.00,401.52L537.00,401.52L538.00,401.52L539.00,401.52L540.00,401.52L541.00,401.52L542.00,401.52L543.00,401.52L544.00,401.52L545.00,401.52L546.00,401.52L547.00,401.52L548.00,401.53L549.00,401.53L550.00,401.53L551.00,401.53L552.00,401.53L553.00,401.53L554.00,401.53L555.00,401.53L556.00,401.53L557.00,401.53L558.00,401.53L559.00,401.53L560.00,401.53L561.00,401.54L562.00,401.54L563.00,401.54L564.00,401.54L565.00,401.54L566.00,401.54L567.00,401.54L568.00,401.54L569.00,401.54L570.00,401.54L571.00,401.54L572.00,401.54L573.00,401.55L574.00,401.55L575.00,401.55L576.00,401.55L577.00,401.55L578.00,401.55L579.00,401.55L580.00,401.55L581.00,401.55L582.00,401.55L583.00,401.55L584.00,401.55L585.00,401.56L586.00,401.56L587.00,401.56L588.00,401.56L589.00,401.56L590.00,401.56L591.00,401.56L592.00,401.56L593.00,401.56L594.00,401.56L595.00,401.56L596.00,401.56L597.00,401.57L598.00,401.57L599.00,401.57L600.00,401.57L601.00,401.57L602.00,401.57L603.00,401.57L604.00,401.57L605.00,401.57L606.00,401.57L607.00,401.57L608.00,401.58L609.00,401.58L610.00,401.58L611.00,401.58L612.00,401.58L613.00,401.58L614.00,401.58L615.00,401.58L616.00,401.58L617.00,401.58L618.00,401.58L619.00,401.58L620.00,401.59L621.00,401.59L622.00,401.59L623.00,401.59L624.00,401.59L625.00,401.59L626.00,401.59L627.00,401.59L628.00,401.59L629.00,401.59L630.00,401.59L631.00,401.60L632.00,401.60L633.00,401.60L634.00,401.60L635.00,401.60L636.00,401.60L637.00,401.60L638.00,401.60L639.00,401.60L640.00,401.60L641.00,401.60L642.00,401.60L643.00,401.61L644.00,401.61L645.00,401.61L646.00,401.61L647.00,401.61L648.00,401.61L649.00,401.61L650.00,401.61L651.00,401.61L652.00,401.61L653.00,401.61L654.00,401.61L655.00,401.62L656.00,401.62L657.00,401.62L658.00,401.62L659.00,401.62L660.00,401.62L661.00,401.62L662.00,401.62L663.00,401.62L664.00,401.62L665.00,401.62L666.00,401.62L667.00,401.63L668.00,401.63L669.00,401.63L670.00,401.63L671.00,401.63L672.00,401.63L673.00,401.63L674.00,401.63L675.00,401.63L676.00,401.63L677.00,401.63L678.00,401.63L679.00,401.63L680.00,401.64L681.00,401.64L682.00,401.64L683.00,401.64L684.00,401.64L685.00,401.64L686.00,401.64L687.00,401.64L688.00,401.64L689.00,401.64L690.00,401.64L691.00,401.64L692.00,401.64L693.00,401.65L694.00,401.65L695.00,401.65L696.00,401.65L697.00,401.65L698.00,401.65L699.00,401.65L700.00,401.65L701.00,401.65L702.00,401.65L703.00,401.65L704.00,401.65L705.00,401.65L706.00,401.65L707.00,401.65L708.00,401.66L709.00,401.66L710.00,401.66L711.00,401.66L712.00,401.66L713.00,401.66L714.00,401.66L715.00,401.66L716.00,401.66L717.00,401.66L718.00,401.66L719.00,401.66L720.00,401.66L721.00,401.66L722.00,401.66L723.00,401.67L724.00,401.67L725.00,401.67L726.00,401.67L727.00,401.67L728.00,401.67L729.00,401.67L730.00,401.67L731.00,401.67L732.00,401.67L733.00,401.67L734.00,401.67L735.00,401.67L736.00,401.67L737.00,401.67L738.00,401.67L739.00,401.67L740.00,401.67L741.00,401.68L742.00,401.68L743.00,401.68L744.00,401.68L745.00,401.68L746.00,401.68L747.00,401.68L748.00,401.68L749.00,401.68L750.00,401.68L751.00,401.68L752.00,401.68L753.00,401.68L754.00,401.68L755.00,401.68L756.00,401.68L757.00,401.68L758.00,401.68L759.00,401.68L760.00,401.68L761.00,401.68L762.00,401.69L763.00,401.69L764.00,401.69L765.00,401.69L766.00,401.69L767.00,401.69L768.00,401.69L769.00,401.69L770.00,401.69L771.00,401.69L772.00,401.69L773.00,401.69L774.00,401.69L775.00,401.69L776.00,401.69L777.00,401.69L778.00,401.69L779.00,401.69L780.00,401.69L781.00,401.69L782.00,401.69L783.00,401.69L784.00,401.69L785.00,401.69L786.00,401.69L787.00,401.69L788.00,401.70L789.00,401.70L790.00,401.70L791.00,401.70L792.00,401.70L793.00,401.70L794.00,401.70L795.00,401.70L796.00,401.70L797.00,401.70L798.00,401.70L799.00,401.70L800.00,401.70L801.00,401.70L802.00,401.70L803.00,401.70L804.00,401.70L805.00,401.70L806.00,401.70L807.00,401.70L808.00,401.70L809.00,401.70L809.80,401.70"/>
<path class="c" stroke="#eb6235" stroke-dasharray="3.6 3.5 8.1 3.6" d="M116.60,401.70L116.85,401.65L117.10,401.62L117.35,401.60L117.60,401.58L117.85,401.58L118.10,401.59L118.35,401.60L118.60,401.62L118.85,401.66L119.10,401.70L119.35,401.74L119.60,401.80L119.85,401.86L120.10,401.93L120.35,402.00L120.60,402.09L120.85,402.17L121.10,402.27L121.35,402.36L121.60,402.47L121.85,402.58L122.10,402.69L122.35,402.81L122.60,402.93L122.85,403.06L123.10,403.19L123.35,403.33L123.60,403.47L123.85,403.61L124.10,403.76L124.35,403.91L124.60,404.06L124.85,404.22L125.10,404.38L125.35,404.54L125.60,404.71L125.85,404.88L126.10,405.05L126.35,405.22L126.60,405.40L126.85,405.58L127.10,405.76L127.35,405.94L127.60,406.13L127.85,406.32L128.10,406.51L128.35,406.70L128.60,406.89L128.85,407.09L129.10,407.28L129.35,407.48L129.60,407.68L129.85,407.88L130.10,408.09L130.35,408.29L130.60,408.50L130.85,408.71L131.10,408.91L131.35,409.12L131.60,409.34L131.85,409.55L132.10,409.76L132.35,409.98L132.60,410.19L132.85,410.41L133.10,410.63L133.35,410.84L133.60,411.06L133.85,411.28L134.10,411.50L134.35,411.73L134.60,411.95L134.85,412.17L135.10,412.39L135.35,412.62L135.60,412.84L135.85,413.07L136.10,413.30L136.35,413.52L136.60,413.75L136.85,413.98L137.10,414.21L137.35,414.43L137.60,414.66L137.85,414.89L138.10,415.12L138.35,415.35L138.60,415.58L138.85,415.81L139.10,416.05L139.35,416.28L139.60,416.51L139.85,416.74L140.10,416.97L140.35,417.20L140.60,417.43L140.85,417.66L141.10,417.89L141.35,418.12L141.60,418.35L141.85,418.57L142.10,418.80L142.35,419.02L142.60,419.25L142.85,419.47L143.10,419.69L143.35,419.91L143.60,420.13L143.85,420.34L144.10,420.56L144.35,420.77L144.60,420.99L144.85,421.20L145.10,421.40L145.35,421.61L145.60,421.82L145.85,422.02L146.10,422.22L146.35,422.42L146.60,422.61L146.85,422.81L147.10,423.00L147.35,423.19L147.60,423.38L147.85,423.57L148.10,423.75L148.35,423.93L148.60,424.11L148.85,424.29L149.10,424.46L149.35,424.64L149.60,424.81L149.85,424.97L150.10,425.14L150.35,425.30L150.60,425.46L150.85,425.62L151.10,425.77L151.35,425.93L151.60,426.08L151.85,426.22L152.10,426.37L152.35,426.51L152.60,426.65L152.85,426.79L153.10,426.92L153.35,427.05L153.60,427.18L153.85,427.31L154.10,427.43L154.35,427.55L154.60,427.67L154.85,427.78L155.10,427.89L155.35,428.00L155.60,428.11L155.85,428.21L156.10,428.31L156.35,428.41L156.60,428.50L156.85,428.59L157.10,428.68L157.35,428.76L157.60,428.84L157.85,428.92L158.10,429.00L158.35,429.07L158.60,429.14L158.85,429.20L159.10,429.26L159.35,429.32L159.60,429.38L159.85,429.43L160.10,429.48L160.35,429.52L160.60,429.57L160.85,429.60L161.10,429.64L161.35,429.68L161.60,429.71L161.85,429.73L162.10,429.76L162.35,429.78L162.60,429.80L162.85,429.82L163.10,429.84L163.35,429.85L163.60,429.86L163.85,429.87L164.10,429.87L164.35,429.88L164.60,429.88L164.85,429.88L165.10,429.88L165.35,429.87L165.60,429.86L165.85,429.85L166.10,429.84L166.35,429.83L166.60,429.82L166.85,429.80L167.10,429.78L167.35,429.76L167.60,429.74L167.85,429.71L168.10,429.69L168.35,429.66L168.60,429.63L168.85,429.60L169.10,429.57L169.35,429.54L169.60,429.50L169.85,429.47L170.10,429.43L170.35,429.39L170.60,429.35L170.85,429.31L171.10,429.26L171.35,429.22L171.60,429.17L171.85,429.13L172.10,429.08L172.35,429.03L172.60,428.98L172.85,428.93L173.10,428.88L173.35,428.82L173.60,428.77L173.85,428.71L174.10,428.65L174.35,428.60L174.60,428.54L174.85,428.48L175.10,428.42L175.35,428.36L175.60,428.29L175.85,428.23L176.10,428.17L176.35,428.10L176.60,428.04L176.85,427.97L177.10,427.90L177.35,427.83L177.60,427.77L177.85,427.70L178.10,427.63L178.35,427.55L178.60,427.48L178.85,427.41L179.10,427.34L179.35,427.27L179.60,427.19L179.85,427.12L180.10,427.04L180.35,426.97L180.60,426.89L180.85,426.81L181.10,426.74L181.35,426.66L181.60,426.58L181.85,426.50L182.10,426.42L182.35,426.34L182.60,426.26L182.85,426.18L183.10,426.10L183.35,426.02L183.60,425.94L183.85,425.86L184.10,425.78L184.35,425.69L184.60,425.61L184.85,425.53L185.10,425.44L185.35,425.36L185.60,425.28L185.85,425.19L186.10,425.11L186.35,425.02L186.60,424.94L186.85,424.85L187.10,424.77L187.35,424.68L187.60,424.60L187.85,424.51L188.10,424.42L188.35,424.34L188.60,424.25L188.85,424.17L189.10,424.08L189.35,423.99L189.60,423.90L189.85,423.82L190.10,423.73L190.35,423.64L190.60,423.56L190.85,423.47L191.10,423.38L191.35,423.29L191.60,423.20L191.85,423.12L192.10,423.03L192.35,422.94L192.60,422.85L192.85,422.77L193.10,422.68L193.35,422.59L193.60,422.50L193.85,422.41L194.10,422.33L194.35,422.24L194.60,422.15L194.85,422.06L195.10,421.97L195.35,421.89L195.60,421.80L195.85,421.71L196.10,421.62L196.35,421.54L196.60,421.45L196.85,421.36L197.10,421.27L197.35,421.19L197.60,421.10L197.85,421.01L198.10,420.93L198.35,420.84L198.60,420.75L198.85,420.67L199.10,420.58L199.35,420.49L199.60,420.41L199.85,420.32L200.10,420.23L200.35,420.15L200.60,420.06L200.85,419.98L201.10,419.89L201.35,419.81L201.60,419.72L201.85,419.64L202.10,419.55L202.35,419.47L202.60,419.38L202.85,419.30L203.10,419.21L203.35,419.13L203.60,419.05L203.85,418.96L204.10,418.88L204.35,418.80L204.60,418.71L204.85,418.63L205.10,418.55L205.35,418.47L205.60,418.38L205.85,418.30L206.10,418.22L206.35,418.14L206.60,418.06L206.85,417.98L207.10,417.90L207.35,417.82L207.60,417.74L207.85,417.66L208.10,417.58L208.35,417.50L208.60,417.42L208.85,417.34L209.10,417.26L209.35,417.18L209.60,417.10L209.85,417.03L210.10,416.95L210.35,416.87L210.60,416.79L210.85,416.72L211.10,416.64L211.35,416.56L211.60,416.49L211.85,416.41L212.10,416.34L212.35,416.26L212.60,416.19L212.85,416.11L213.10,416.04L213.35,415.96L213.60,415.89L213.85,415.82L214.10,415.74L214.35,415.67L214.60,415.60L214.85,415.52L215.10,415.45L215.35,415.38L215.60,415.31L215.85,415.24L216.10,415.17L216.35,415.10L216.60,415.03L216.85,414.96L217.10,414.89L217.35,414.82L217.60,414.75L217.85,414.68L218.10,414.61L218.35,414.54L218.60,414.48L218.85,414.41L219.10,414.34L219.35,414.28L219.60,414.21L219.85,414.14L220.10,414.08L220.35,414.01L220.60,413.95L220.85,413.88L221.10,413.82L221.35,413.76L221.60,413.69L221.85,413.63L222.10,413.56L222.35,413.50L222.60,413.44L222.85,413.38L223.10,413.32L223.35,413.25L223.60,413.19L223.85,413.13L224.10,413.07L224.35,413.01L224.60,412.95L224.85,412.89L225.10,412.83L225.35,412.78L225.60,412.72L225.85,412.66L226.10,412.60L226.35,412.54L226.60,412.49L226.85,412.43L227.10,412.37L227.35,412.32L227.60,412.26L227.85,412.21L228.10,412.15L228.35,412.09L228.60,412.04L228.85,411.99L229.10,411.93L229.35,411.88L229.60,411.82L229.85,411.77L230.00,411.74L231.00,411.53L232.00,411.32L233.00,411.12L234.00,410.92L235.00,410.73L236.00,410.54L237.00,410.36L238.00,410.17L239.00,410.00L240.00,409.82L241.00,409.65L242.00,409.48L243.00,409.32L244.00,409.16L245.00,409.00L246.00,408.85L247.00,408.70L248.00,408.55L249.00,408.40L250.00,408.26L251.00,408.12L252.00,407.99L253.00,407.85L254.00,407.72L255.00,407.59L256.00,407.47L257.00,407.34L258.00,407.22L259.00,407.10L260.00,406.99L261.00,406.87L262.00,406.76L263.00,406.65L264.00,406.54L265.00,406.44L266.00,406.33L267.00,406.23L268.00,406.13L269.00,406.04L270.00,405.94L271.00,405.85L272.00,405.75L273.00,405.66L274.00,405.58L275.00,405.49L276.00,405.40L277.00,405.32L278.00,405.24L279.00,405.16L280.00,405.08L281.00,405.00L282.00,404.93L283.00,404.85L284.00,404.78L285.00,404.71L286.00,404.64L287.00,404.57L288.00,404.51L289.00,404.44L290.00,404.38L291.00,404.31L292.00,404.25L293.00,404.19L294.00,404.13L295.00,404.07L296.00,404.01L297.00,403.96L298.00,403.90L299.00,403.85L300.00,403.80L301.00,403.75L302.00,403.69L303.00,403.64L304.00,403.60L305.00,403.55L306.00,403.50L307.00,403.46L308.00,403.41L309.00,403.37L310.00,403.32L311.00,403.28L312.00,403.24L313.00,403.20L314.00,403.16L315.00,403.12L316.00,403.08L317.00,403.05L318.00,403.01L319.00,402.97L320.00,402.94L321.00,402.90L322.00,402.87L323.00,402.84L324.00,402.80L325.00,402.77L326.00,402.74L327.00,402.71L328.00,402.68L329.00,402.65L330.00,402.63L331.00,402.60L332.00,402.57L333.00,402.54L334.00,402.52L335.00,402.49L336.00,402.47L337.00,402.44L338.00,402.42L339.00,402.40L340.00,402.37L341.00,402.35L342.00,402.33L343.00,402.31L344.00,402.29L345.00,402.27L346.00,402.25L347.00,402.23L348.00,402.21L349.00,402.19L350.00,402.17L351.00,402.16L352.00,402.14L353.00,402.12L354.00,402.11L355.00,402.09L356.00,402.08L357.00,402.06L358.00,402.05L359.00,402.03L360.00,402.02L361.00,402.00L362.00,401.99L363.00,401.98L364.00,401.97L365.00,401.95L366.00,401.94L367.00,401.93L368.00,401.92L369.00,401.91L370.00,401.90L371.00,401.89L372.00,401.88L373.00,401.87L374.00,401.86L375.00,401.85L376.00,401.84L377.00,401.83L378.00,401.82L379.00,401.81L380.00,401.81L381.00,401.80L382.00,401.79L383.00,401.78L384.00,401.78L385.00,401.77L386.00,401.77L387.00,401.76L388.00,401.75L389.00,401.75L390.00,401.74L391.00,401.74L392.00,401.73L393.00,401.73L394.00,401.72L395.00,401.72L396.00,401.71L397.00,401.71L398.00,401.71L399.00,401.70L400.00,401.70L401.00,401.69L402.00,401.69L403.00,401.69L404.00,401.69L405.00,401.68L406.00,401.68L407.00,401.68L408.00,401.68L409.00,401.67L410.00,401.67L411.00,401.67L412.00,401.67L413.00,401.67L414.00,401.67L415.00,401.66L416.00,401.66L417.00,401.66L418.00,401.66L419.00,401.66L420.00,401.66L421.00,401.66L422.00,401.66L423.00,401.66L424.00,401.66L425.00,401.66L426.00,401.66L427.00,401.66L428.00,401.66L429.00,401.66L430.00,401.66L431.00,401.66L432.00,401.66L433.00,401.66L434.00,401.66L435.00,401.66L436.00,401.66L437.00,401.67L438.00,401.67L439.00,401.67L440.00,401.67L441.00,401.67L442.00,401.67L443.00,401.67L444.00,401.68L445.00,401.68L446.00,401.68L447.00,401.68L448.00,401.68L449.00,401.68L450.00,401.69L451.00,401.69L452.00,401.69L453.00,401.69L454.00,401.69L455.00,401.70L456.00,401.70L457.00,401.70L458.00,401.70L459.00,401.71L460.00,401.71L461.00,401.71L462.00,401.71L463.00,401.72L464.00,401.72L465.00,401.72L466.00,401.73L467.00,401.73L468.00,401.73L469.00,401.73L470.00,401.74L471.00,401.74L472.00,401.74L473.00,401.75L474.00,401.75L475.00,401.75L476.00,401.76L477.00,401.76L478.00,401.76L479.00,401.77L480.00,401.77L481.00,401.77L482.00,401.78L483.00,401.78L484.00,401.78L485.00,401.79L486.00,401.79L487.00,401.79L488.00,401.80L489.00,401.80L490.00,401.80L491.00,401.81L492.00,401.81L493.00,401.81L494.00,401.82L495.00,401.82L496.00,401.82L497.00,401.83L498.00,401.83L499.00,401.83L500.00,401.84L501.00,401.84L502.00,401.84L503.00,401.85L504.00,401.85L505.00,401.85L506.00,401.86L507.00,401.86L508.00,401.87L509.00,401.87L510.00,401.87L511.00,401.88L512.00,401.88L513.00,401.88L514.00,401.89L515.00,401.89L516.00,401.89L517.00,401.90L518.00,401.90L519.00,401.90L520.00,401.91L521.00,401.91L522.00,401.92L523.00,401.92L524.00,401.92L525.00,401.93L526.00,401.93L527.00,401.93L528.00,401.94L529.00,401.94L530.00,401.94L531.00,401.95L532.00,401.95L533.00,401.95L534.00,401.96L535.00,401.96L536.00,401.96L537.00,401.97L538.00,401.97L539.00,401.97L540.00,401.98L541.00,401.98L542.00,401.98L543.00,401.99L544.00,401.99L545.00,401.99L546.00,402.00L547.00,402.00L548.00,402.00L549.00,402.01L550.00,402.01L551.00,402.01L552.00,402.02L553.00,402.02L554.00,402.02L555.00,402.02L556.00,402.03L557.00,402.03L558.00,402.03L559.00,402.04L560.00,402.04L561.00,402.04L562.00,402.04L563.00,402.05L564.00,402.05L565.00,402.05L566.00,402.06L567.00,402.06L568.00,402.06L569.00,402.06L570.00,402.07L571.00,402.07L572.00,402.07L573.00,402.07L574.00,402.08L575.00,402.08L576.00,402.08L577.00,402.08L578.00,402.09L579.00,402.09L580.00,402.09L581.00,402.09L582.00,402.10L583.00,402.10L584.00,402.10L585.00,402.10L586.00,402.11L587.00,402.11L588.00,402.11L589.00,402.11L590.00,402.11L591.00,402.12L592.00,402.12L593.00,402.12L594.00,402.12L595.00,402.12L596.00,402.13L597.00,402.13L598.00,402.13L599.00,402.13L600.00,402.13L601.00,402.13L602.00,402.14L603.00,402.14L604.00,402.14L605.00,402.14L606.00,402.14L607.00,402.14L608.00,402.15L609.00,402.15L610.00,402.15L611.00,402.15L612.00,402.15L613.00,402.15L614.00,402.15L615.00,402.16L616.00,402.16L617.00,402.16L618.00,402.16L619.00,402.16L620.00,402.16L621.00,402.16L622.00,402.16L623.00,402.16L624.00,402.17L625.00,402.17L626.00,402.17L627.00,402.17L628.00,402.17L629.00,402.17L630.00,402.17L631.00,402.17L632.00,402.17L633.00,402.17L634.00,402.17L635.00,402.17L636.00,402.17L637.00,402.18L638.00,402.18L639.00,402.18L640.00,402.18L641.00,402.18L642.00,402.18L643.00,402.18L644.00,402.18L645.00,402.18L646.00,402.18L647.00,402.18L648.00,402.18L649.00,402.18L650.00,402.18L651.00,402.18L652.00,402.18L653.00,402.18L654.00,402.18L655.00,402.18L656.00,402.18L657.00,402.18L658.00,402.18L659.00,402.18L660.00,402.18L661.00,402.18L662.00,402.18L663.00,402.18L664.00,402.17L665.00,402.17L666.00,402.17L667.00,402.17L668.00,402.17L669.00,402.17L670.00,402.17L671.00,402.17L672.00,402.17L673.00,402.17L674.00,402.17L675.00,402.17L676.00,402.17L677.00,402.16L678.00,402.16L679.00,402.16L680.00,402.16L681.00,402.16L682.00,402.16L683.00,402.16L684.00,402.16L685.00,402.16L686.00,402.15L687.00,402.15L688.00,402.15L689.00,402.15L690.00,402.15L691.00,402.15L692.00,402.14L693.00,402.14L694.00,402.14L695.00,402.14L696.00,402.14L697.00,402.14L698.00,402.13L699.00,402.13L700.00,402.13L701.00,402.13L702.00,402.13L703.00,402.12L704.00,402.12L705.00,402.12L706.00,402.12L707.00,402.12L708.00,402.11L709.00,402.11L710.00,402.11L711.00,402.11L712.00,402.11L713.00,402.10L714.00,402.10L715.00,402.10L716.00,402.10L717.00,402.09L718.00,402.09L719.00,402.09L720.00,402.08L721.00,402.08L722.00,402.08L723.00,402.08L724.00,402.07L725.00,402.07L726.00,402.07L727.00,402.07L728.00,402.06L729.00,402.06L730.00,402.06L731.00,402.05L732.00,402.05L733.00,402.05L734.00,402.04L735.00,402.04L736.00,402.04L737.00,402.03L738.00,402.03L739.00,402.03L740.00,402.02L741.00,402.02L742.00,402.02L743.00,402.01L744.00,402.01L745.00,402.01L746.00,402.00L747.00,402.00L748.00,402.00L749.00,401.99L750.00,401.99L751.00,401.98L752.00,401.98L753.00,401.98L754.00,401.97L755.00,401.97L756.00,401.96L757.00,401.96L758.00,401.96L759.00,401.95L760.00,401.95L761.00,401.94L762.00,401.94L763.00,401.93L764.00,401.93L765.00,401.93L766.00,401.92L767.00,401.92L768.00,401.91L769.00,401.91L770.00,401.90L771.00,401.90L772.00,401.89L773.00,401.89L774.00,401.88L775.00,401.88L776.00,401.88L777.00,401.87L778.00,401.87L779.00,401.86L780.00,401.86L781.00,401.85L782.00,401.85L783.00,401.84L784.00,401.84L785.00,401.83L786.00,401.83L787.00,401.82L788.00,401.82L789.00,401.81L790.00,401.80L791.00,401.80L792.00,401.79L793.00,401.79L794.00,401.78L795.00,401.78L796.00,401.77L797.00,401.77L798.00,401.76L799.00,401.76L800.00,401.75L801.00,401.74L802.00,401.74L803.00,401.73L804.00,401.73L805.00,401.72L806.00,401.72L807.00,401.71L808.00,401.70L809.00,401.70L809.80,401.69"/>
<path class="c" stroke="#ff0000" d="M115.4,402.0L116.2,402.0L116.60,401.70L116.85,401.68L117.10,401.59L117.35,401.43L117.60,401.23L117.85,400.96L118.10,400.65L118.35,400.28L118.60,399.87L118.85,399.41L119.10,398.92L119.35,398.38L119.60,397.81L119.85,397.20L120.10,396.57L120.35,395.89L120.60,395.20L120.85,394.47L121.10,393.71L121.35,392.94L121.60,392.14L121.85,391.31L122.10,390.47L122.35,389.60L122.60,388.69L122.85,387.76L123.10,386.78L123.35,385.76L123.60,384.69L123.85,383.58L124.10,382.41L124.35,381.19L124.60,379.91L124.85,378.57L125.10,377.18L125.35,375.74L125.60,374.26L125.85,372.73L126.10,371.16L126.35,369.56L126.60,367.93L126.85,366.26L127.10,364.57L127.35,362.85L127.60,361.12L127.85,359.36L128.10,357.59L128.35,355.79L128.60,353.99L128.85,352.17L129.10,350.34L129.35,348.50L129.60,346.65L129.85,344.79L130.10,342.92L130.35,341.04L130.60,339.16L130.85,337.27L131.10,335.37L131.35,333.47L131.60,331.57L131.85,329.66L132.10,327.75L132.35,325.84L132.60,323.93L132.85,322.01L133.10,320.10L133.35,318.19L133.60,316.27L133.85,314.36L134.10,312.45L134.35,310.54L134.60,308.64L134.85,306.74L135.10,304.84L135.35,302.94L135.60,301.05L135.85,299.16L136.10,297.28L136.35,295.39L136.60,293.51L136.85,291.63L137.10,289.74L137.35,287.84L137.60,285.94L137.85,284.03L138.10,282.11L138.35,280.18L138.60,278.24L138.85,276.28L139.10,274.31L139.35,272.32L139.60,270.32L139.85,268.29L140.10,266.25L140.35,264.19L140.60,262.11L140.85,260.00L141.10,257.88L141.35,255.73L141.60,253.55L141.85,251.35L142.10,249.13L142.35,246.88L142.60,244.60L142.85,242.31L143.10,240.01L143.35,237.69L143.60,235.36L143.85,233.02L144.10,230.67L144.35,228.32L144.60,225.97L144.85,223.62L145.10,221.28L145.35,218.94L145.60,216.61L145.85,214.28L146.10,211.97L146.35,209.67L146.60,207.39L146.85,205.12L147.10,202.87L147.35,200.64L147.60,198.44L147.85,196.25L148.10,194.09L148.35,191.95L148.60,189.82L148.85,187.72L149.10,185.64L149.35,183.59L149.60,181.55L149.85,179.53L150.10,177.52L150.35,175.54L150.60,173.58L150.85,171.64L151.10,169.71L151.35,167.80L151.60,165.91L151.85,164.04L152.10,162.18L152.35,160.34L152.60,158.52L152.85,156.71L153.10,154.92L153.35,153.15L153.60,151.39L153.85,149.65L154.10,147.92L154.35,146.21L154.60,144.51L154.85,142.83L155.10,141.16L155.35,139.50L155.60,137.86L155.85,136.24L156.10,134.62L156.35,133.02L156.60,131.44L156.85,129.86L157.10,128.30L157.35,126.76L157.60,125.22L157.85,123.70L158.10,122.19L158.35,120.69L158.60,119.21L158.85,117.73L159.10,116.27L159.35,114.82L159.60,113.38L159.85,111.95L160.10,110.53L160.35,109.12L160.60,107.73L160.85,106.34L161.10,104.97L161.35,103.60L161.60,102.25L161.85,100.90L162.10,99.57L162.35,98.24L162.60,96.93L162.85,95.63L163.10,94.33L163.35,93.05L163.60,91.77L163.85,90.51L164.10,89.26L164.35,88.02L164.60,86.79L164.85,85.58L165.10,84.37L165.35,83.18L165.60,81.99L165.85,80.82L166.10,79.66L166.35,78.52L166.60,77.38L166.85,76.26L167.10,75.15L167.35,74.06L167.60,72.97L167.85,71.90L168.10,70.85L168.35,69.80L168.60,68.77L168.85,67.75L169.10,66.74L169.35,65.75L169.60,64.77L169.85,63.81L170.10,62.86L170.35,61.92L170.60,60.99L170.85,60.08L171.10,59.18L171.35,58.30L171.60,57.43L171.85,56.58L172.10,55.73L172.35,54.91L172.60,54.09L172.85,53.29L173.10,52.51L173.35,51.74L173.60,50.98L173.85,50.24L174.10,49.51L174.35,48.80L174.60,48.10L174.85,47.41L175.10,46.74L175.35,46.08L175.60,45.44L175.85,44.81L176.10,44.20L176.35,43.60L176.60,43.02L176.85,42.45L177.10,41.90L177.35,41.35L177.60,40.83L177.85,40.32L178.10,39.82L178.35,39.33L178.60,38.86L178.85,38.40L179.10,37.96L179.35,37.53L179.60,37.11L179.85,36.70L180.10,36.30L180.35,35.92L180.60,35.55L180.85,35.19L181.10,34.84L181.35,34.50L181.60,34.17L181.85,33.85L182.10,33.55L182.35,33.25L182.60,32.97L182.85,32.69L183.10,32.42L183.35,32.17L183.60,31.92L183.85,31.68L184.10,31.46L184.35,31.24L184.60,31.03L184.85,30.82L185.10,30.63L185.35,30.45L185.60,30.27L185.85,30.10L186.10,29.94L186.35,29.79L186.60,29.64L186.85,29.50L187.10,29.37L187.35,29.25L187.60,29.13L187.85,29.03L188.10,28.92L188.35,28.83L188.60,28.74L188.85,28.66L189.10,28.58L189.35,28.51L189.60,28.45L189.85,28.39L190.10,28.34L190.35,28.29L190.60,28.25L190.85,28.22L191.10,28.19L191.35,28.16L191.60,28.14L191.85,28.13L192.10,28.12L192.35,28.12L192.60,28.12L192.85,28.12L193.10,28.13L193.35,28.15L193.60,28.17L193.85,28.19L194.10,28.22L194.35,28.25L194.60,28.29L194.85,28.33L195.10,28.37L195.35,28.42L195.60,28.47L195.85,28.52L196.10,28.58L196.35,28.64L196.60,28.71L196.85,28.78L197.10,28.85L197.35,28.92L197.60,29.00L197.85,29.08L198.10,29.17L198.35,29.25L198.60,29.34L198.85,29.43L199.10,29.53L199.35,29.62L199.60,29.72L199.85,29.83L200.10,29.93L200.35,30.04L200.60,30.15L200.85,30.26L201.10,30.38L201.35,30.50L201.60,30.62L201.85,30.74L202.10,30.87L202.35,31.00L202.60,31.13L202.85,31.26L203.10,31.40L203.35,31.54L203.60,31.68L203.85,31.83L204.10,31.97L204.35,32.13L204.60,32.28L204.85,32.43L205.10,32.59L205.35,32.76L205.60,32.92L205.85,33.09L206.10,33.26L206.35,33.43L206.60,33.61L206.85,33.79L207.10,33.97L207.35,34.15L207.60,34.34L207.85,34.53L208.10,34.72L208.35,34.92L208.60,35.11L208.85,35.31L209.10,35.52L209.35,35.73L209.60,35.93L209.85,36.15L210.10,36.36L210.35,36.58L210.60,36.80L210.85,37.02L211.10,37.25L211.35,37.48L211.60,37.71L211.85,37.95L212.10,38.19L212.35,38.43L212.60,38.67L212.85,38.92L213.10,39.17L213.35,39.42L213.60,39.67L213.85,39.93L214.10,40.19L214.35,40.46L214.60,40.72L214.85,40.99L215.10,41.26L215.35,41.54L215.60,41.82L215.85,42.10L216.10,42.38L216.35,42.67L216.60,42.95L216.85,43.25L217.10,43.54L217.35,43.84L217.60,44.14L217.85,44.44L218.10,44.75L218.35,45.06L218.60,45.37L218.85,45.68L219.10,46.00L219.35,46.32L219.60,46.65L219.85,46.97L220.10,47.30L220.35,47.63L220.60,47.97L220.85,48.30L221.10,48.64L221.35,48.99L221.60,49.33L221.85,49.68L222.10,50.03L222.35,50.39L222.60,50.74L222.85,51.10L223.10,51.47L223.35,51.83L223.60,52.20L223.85,52.57L224.10,52.94L224.35,53.32L224.60,53.70L224.85,54.08L225.10,54.46L225.35,54.85L225.60,55.23L225.85,55.62L226.10,56.01L226.35,56.41L226.60,56.80L226.85,57.20L227.10,57.60L227.35,58.00L227.60,58.40L227.85,58.81L228.10,59.21L228.35,59.62L228.60,60.03L228.85,60.44L229.10,60.85L229.35,61.26L229.60,61.68L229.85,62.09L230.00,62.34L231.00,64.01L232.00,65.70L233.00,67.40L234.00,69.10L235.00,70.82L236.00,72.53L237.00,74.24L238.00,75.95L239.00,77.65L240.00,79.35L241.00,81.03L242.00,82.71L243.00,84.38L244.00,86.03L245.00,87.68L246.00,89.32L247.00,90.95L248.00,92.57L249.00,94.17L250.00,95.77L251.00,97.36L252.00,98.94L253.00,100.51L254.00,102.06L255.00,103.61L256.00,105.14L257.00,106.67L258.00,108.18L259.00,109.69L260.00,111.18L261.00,112.67L262.00,114.14L263.00,115.60L264.00,117.05L265.00,118.49L266.00,119.92L267.00,121.34L268.00,122.75L269.00,124.14L270.00,125.53L271.00,126.90L272.00,128.27L273.00,129.62L274.00,130.97L275.00,132.30L276.00,133.62L277.00,134.93L278.00,136.23L279.00,137.52L280.00,138.80L281.00,140.07L282.00,141.32L283.00,142.57L284.00,143.81L285.00,145.03L286.00,146.25L287.00,147.45L288.00,148.65L289.00,149.83L290.00,151.01L291.00,152.17L292.00,153.32L293.00,154.47L294.00,155.60L295.00,156.73L296.00,157.84L297.00,158.95L298.00,160.04L299.00,161.13L300.00,162.21L301.00,163.27L302.00,164.33L303.00,165.38L304.00,166.43L305.00,167.46L306.00,168.48L307.00,169.50L308.00,170.51L309.00,171.51L310.00,172.50L311.00,173.48L312.00,174.45L313.00,175.42L314.00,176.38L315.00,177.33L316.00,178.27L317.00,179.21L318.00,180.13L319.00,181.05L320.00,181.97L321.00,182.87L322.00,183.77L323.00,184.66L324.00,185.54L325.00,186.42L326.00,187.29L327.00,188.15L328.00,189.00L329.00,189.85L330.00,190.69L331.00,191.53L332.00,192.36L333.00,193.18L334.00,193.99L335.00,194.80L336.00,195.60L337.00,196.40L338.00,197.19L339.00,197.97L340.00,198.74L341.00,199.51L342.00,200.28L343.00,201.04L344.00,201.79L345.00,202.53L346.00,203.27L347.00,204.01L348.00,204.74L349.00,205.46L350.00,206.18L351.00,206.89L352.00,207.59L353.00,208.29L354.00,208.99L355.00,209.68L356.00,210.36L357.00,211.04L358.00,211.71L359.00,212.38L360.00,213.05L361.00,213.70L362.00,214.36L363.00,215.00L364.00,215.64L365.00,216.28L366.00,216.91L367.00,217.54L368.00,218.16L369.00,218.78L370.00,219.39L371.00,220.00L372.00,220.61L373.00,221.21L374.00,221.80L375.00,222.39L376.00,222.98L377.00,223.56L378.00,224.13L379.00,224.71L380.00,225.27L381.00,225.84L382.00,226.40L383.00,226.95L384.00,227.50L385.00,228.05L386.00,228.59L387.00,229.13L388.00,229.67L389.00,230.20L390.00,230.73L391.00,231.25L392.00,231.77L393.00,232.29L394.00,232.80L395.00,233.31L396.00,233.81L397.00,234.31L398.00,234.81L399.00,235.31L400.00,235.80L401.00,236.28L402.00,236.77L403.00,237.25L404.00,237.72L405.00,238.20L406.00,238.67L407.00,239.13L408.00,239.60L409.00,240.06L410.00,240.52L411.00,240.97L412.00,241.42L413.00,241.87L414.00,242.31L415.00,242.75L416.00,243.19L417.00,243.63L418.00,244.06L419.00,244.49L420.00,244.92L421.00,245.34L422.00,245.76L423.00,246.18L424.00,246.59L425.00,247.01L426.00,247.42L427.00,247.82L428.00,248.23L429.00,248.63L430.00,249.03L431.00,249.42L432.00,249.82L433.00,250.21L434.00,250.60L435.00,250.98L436.00,251.36L437.00,251.74L438.00,252.12L439.00,252.50L440.00,252.87L441.00,253.24L442.00,253.61L443.00,253.98L444.00,254.34L445.00,254.70L446.00,255.06L447.00,255.42L448.00,255.77L449.00,256.12L450.00,256.47L451.00,256.82L452.00,257.16L453.00,257.51L454.00,257.85L455.00,258.19L456.00,258.52L457.00,258.86L458.00,259.19L459.00,259.52L460.00,259.85L461.00,260.17L462.00,260.50L463.00,260.82L464.00,261.14L465.00,261.46L466.00,261.77L467.00,262.09L468.00,262.40L469.00,262.71L470.00,263.02L471.00,263.32L472.00,263.63L473.00,263.93L474.00,264.23L475.00,264.53L476.00,264.83L477.00,265.12L478.00,265.41L479.00,265.71L480.00,266.00L481.00,266.28L482.00,266.57L483.00,266.85L484.00,267.14L485.00,267.42L486.00,267.70L487.00,267.98L488.00,268.25L489.00,268.53L490.00,268.80L491.00,269.07L492.00,269.34L493.00,269.61L494.00,269.87L495.00,270.14L496.00,270.40L497.00,270.66L498.00,270.92L499.00,271.18L500.00,271.44L501.00,271.69L502.00,271.95L503.00,272.20L504.00,272.45L505.00,272.70L506.00,272.95L507.00,273.20L508.00,273.44L509.00,273.68L510.00,273.93L511.00,274.17L512.00,274.41L513.00,274.65L514.00,274.88L515.00,275.12L516.00,275.35L517.00,275.58L518.00,275.82L519.00,276.05L520.00,276.28L521.00,276.50L522.00,276.73L523.00,276.95L524.00,277.18L525.00,277.40L526.00,277.62L527.00,277.84L528.00,278.06L529.00,278.28L530.00,278.49L531.00,278.71L532.00,278.92L533.00,279.14L534.00,279.35L535.00,279.56L536.00,279.77L537.00,279.98L538.00,280.18L539.00,280.39L540.00,280.59L541.00,280.80L542.00,281.00L543.00,281.20L544.00,281.40L545.00,281.60L546.00,281.80L547.00,282.00L548.00,282.20L549.00,282.39L550.00,282.58L551.00,282.78L552.00,282.97L553.00,283.16L554.00,283.35L555.00,283.54L556.00,283.73L557.00,283.92L558.00,284.10L559.00,284.29L560.00,284.47L561.00,284.66L562.00,284.84L563.00,285.02L564.00,285.20L565.00,285.38L566.00,285.56L567.00,285.74L568.00,285.91L569.00,286.09L570.00,286.26L571.00,286.44L572.00,286.61L573.00,286.78L574.00,286.96L575.00,287.13L576.00,287.30L577.00,287.47L578.00,287.64L579.00,287.80L580.00,287.97L581.00,288.14L582.00,288.30L583.00,288.46L584.00,288.63L585.00,288.79L586.00,288.95L587.00,289.11L588.00,289.27L589.00,289.43L590.00,289.59L591.00,289.75L592.00,289.91L593.00,290.06L594.00,290.22L595.00,290.37L596.00,290.53L597.00,290.68L598.00,290.83L599.00,290.99L600.00,291.14L601.00,291.29L602.00,291.44L603.00,291.59L604.00,291.74L605.00,291.88L606.00,292.03L607.00,292.18L608.00,292.32L609.00,292.47L610.00,292.61L611.00,292.76L612.00,292.90L613.00,293.04L614.00,293.19L615.00,293.33L616.00,293.47L617.00,293.61L618.00,293.75L619.00,293.89L620.00,294.02L621.00,294.16L622.00,294.30L623.00,294.43L624.00,294.57L625.00,294.70L626.00,294.84L627.00,294.97L628.00,295.11L629.00,295.24L630.00,295.37L631.00,295.50L632.00,295.63L633.00,295.76L634.00,295.89L635.00,296.02L636.00,296.15L637.00,296.28L638.00,296.41L639.00,296.53L640.00,296.66L641.00,296.79L642.00,296.91L643.00,297.04L644.00,297.16L645.00,297.29L646.00,297.41L647.00,297.53L648.00,297.65L649.00,297.78L650.00,297.90L651.00,298.02L652.00,298.14L653.00,298.26L654.00,298.38L655.00,298.50L656.00,298.62L657.00,298.73L658.00,298.85L659.00,298.97L660.00,299.08L661.00,299.20L662.00,299.32L663.00,299.43L664.00,299.55L665.00,299.66L666.00,299.77L667.00,299.89L668.00,300.00L669.00,300.11L670.00,300.22L671.00,300.33L672.00,300.45L673.00,300.56L674.00,300.67L675.00,300.78L676.00,300.89L677.00,300.99L678.00,301.10L679.00,301.21L680.00,301.32L681.00,301.43L682.00,301.53L683.00,301.64L684.00,301.75L685.00,301.85L686.00,301.96L687.00,302.06L688.00,302.17L689.00,302.27L690.00,302.37L691.00,302.48L692.00,302.58L693.00,302.68L694.00,302.78L695.00,302.89L696.00,302.99L697.00,303.09L698.00,303.19L699.00,303.29L700.00,303.39L701.00,303.49L702.00,303.59L703.00,303.69L704.00,303.78L705.00,303.88L706.00,303.98L707.00,304.08L708.00,304.17L709.00,304.27L710.00,304.37L711.00,304.46L712.00,304.56L713.00,304.65L714.00,304.75L715.00,304.84L716.00,304.94L717.00,305.03L718.00,305.13L719.00,305.22L720.00,305.31L721.00,305.41L722.00,305.50L723.00,305.59L724.00,305.68L725.00,305.77L726.00,305.86L727.00,305.96L728.00,306.05L729.00,306.14L730.00,306.23L731.00,306.32L732.00,306.41L733.00,306.49L734.00,306.58L735.00,306.67L736.00,306.76L737.00,306.85L738.00,306.94L739.00,307.02L740.00,307.11L741.00,307.20L742.00,307.28L743.00,307.37L744.00,307.46L745.00,307.54L746.00,307.63L747.00,307.71L748.00,307.80L749.00,307.88L750.00,307.97L751.00,308.05L752.00,308.13L753.00,308.22L754.00,308.30L755.00,308.38L756.00,308.47L757.00,308.55L758.00,308.63L759.00,308.71L760.00,308.80L761.00,308.88L762.00,308.96L763.00,309.04L764.00,309.12L765.00,309.20L766.00,309.28L767.00,309.36L768.00,309.44L769.00,309.52L770.00,309.60L771.00,309.68L772.00,309.76L773.00,309.84L774.00,309.92L775.00,309.99L776.00,310.07L777.00,310.15L778.00,310.23L779.00,310.30L780.00,310.38L781.00,310.46L782.00,310.53L783.00,310.61L784.00,310.69L785.00,310.76L786.00,310.84L787.00,310.91L788.00,310.99L789.00,311.07L790.00,311.14L791.00,311.22L792.00,311.29L793.00,311.36L794.00,311.44L795.00,311.51L796.00,311.59L797.00,311.66L798.00,311.73L799.00,311.81L800.00,311.88L801.00,311.95L802.00,312.02L803.00,312.10L804.00,312.17L805.00,312.24L806.00,312.31L807.00,312.38L808.00,312.46L809.00,312.53L809.80,312.58"/>
</g>
<g>
<line x1="116.60" y1="451.60" x2="116.60" y2="445.88" class="tk"/>
<line x1="116.80" y1="6.83" x2="116.80" y2="13.03" class="tg"/>
<line x1="151.20" y1="451.60" x2="151.20" y2="448.38" class="tk"/>
<line x1="151.40" y1="6.83" x2="151.40" y2="9.82" class="tg"/>
<line x1="185.80" y1="451.60" x2="185.80" y2="448.38" class="tk"/>
<line x1="186.00" y1="6.83" x2="186.00" y2="9.82" class="tg"/>
<line x1="220.40" y1="451.60" x2="220.40" y2="448.38" class="tk"/>
<line x1="220.60" y1="6.83" x2="220.60" y2="9.82" class="tg"/>
<line x1="255.00" y1="451.60" x2="255.00" y2="445.88" class="tk"/>
<line x1="255.20" y1="6.83" x2="255.20" y2="13.03" class="tg"/>
<line x1="289.60" y1="451.60" x2="289.60" y2="448.38" class="tk"/>
<line x1="289.80" y1="6.83" x2="289.80" y2="9.82" class="tg"/>
<line x1="324.20" y1="451.60" x2="324.20" y2="448.38" class="tk"/>
<line x1="324.40" y1="6.83" x2="324.40" y2="9.82" class="tg"/>
<line x1="358.80" y1="451.60" x2="358.80" y2="448.38" class="tk"/>
<line x1="359.00" y1="6.83" x2="359.00" y2="9.82" class="tg"/>
<line x1="393.40" y1="451.60" x2="393.40" y2="445.88" class="tk"/>
<line x1="393.60" y1="6.83" x2="393.60" y2="13.03" class="tg"/>
<line x1="428.00" y1="451.60" x2="428.00" y2="448.38" class="tk"/>
<line x1="428.20" y1="6.83" x2="428.20" y2="9.82" class="tg"/>
<line x1="462.60" y1="451.60" x2="462.60" y2="448.38" class="tk"/>
<line x1="462.80" y1="6.83" x2="462.80" y2="9.82" class="tg"/>
<line x1="497.20" y1="451.60" x2="497.20" y2="448.38" class="tk"/>
<line x1="497.40" y1="6.83" x2="497.40" y2="9.82" class="tg"/>
<line x1="531.80" y1="451.60" x2="531.80" y2="445.88" class="tk"/>
<line x1="532.00" y1="6.83" x2="532.00" y2="13.03" class="tg"/>
<line x1="566.40" y1="451.60" x2="566.40" y2="448.38" class="tk"/>
<line x1="566.60" y1="6.83" x2="566.60" y2="9.82" class="tg"/>
<line x1="601.00" y1="451.60" x2="601.00" y2="448.38" class="tk"/>
<line x1="601.20" y1="6.83" x2="601.20" y2="9.82" class="tg"/>
<line x1="635.60" y1="451.60" x2="635.60" y2="448.38" class="tk"/>
<line x1="635.80" y1="6.83" x2="635.80" y2="9.82" class="tg"/>
<line x1="670.20" y1="451.60" x2="670.20" y2="445.88" class="tk"/>
<line x1="670.40" y1="6.83" x2="670.40" y2="13.03" class="tg"/>
<line x1="704.80" y1="451.60" x2="704.80" y2="448.38" class="tk"/>
<line x1="705.00" y1="6.83" x2="705.00" y2="9.82" class="tg"/>
<line x1="739.40" y1="451.60" x2="739.40" y2="448.38" class="tk"/>
<line x1="739.60" y1="6.83" x2="739.60" y2="9.82" class="tg"/>
<line x1="774.00" y1="451.60" x2="774.00" y2="448.38" class="tk"/>
<line x1="774.20" y1="6.83" x2="774.20" y2="9.82" class="tg"/>
<line x1="808.60" y1="451.60" x2="808.60" y2="445.88" class="tk"/>
<line x1="808.80" y1="6.83" x2="808.80" y2="13.03" class="tg"/>
<line x1="102.30" y1="442.13" x2="105.72" y2="442.13" class="tk"/>
<line x1="822.17" y1="442.13" x2="819.17" y2="442.13" class="tg"/>
<line x1="102.30" y1="421.91" x2="105.72" y2="421.91" class="tk"/>
<line x1="822.17" y1="421.91" x2="819.17" y2="421.91" class="tg"/>
<line x1="102.30" y1="401.70" x2="107.92" y2="401.70" class="tk"/>
<line x1="822.17" y1="401.70" x2="815.97" y2="401.70" class="tg"/>
<line x1="102.30" y1="381.49" x2="105.72" y2="381.49" class="tk"/>
<line x1="822.17" y1="381.49" x2="819.17" y2="381.49" class="tg"/>
<line x1="102.30" y1="361.27" x2="105.72" y2="361.27" class="tk"/>
<line x1="822.17" y1="361.27" x2="819.17" y2="361.27" class="tg"/>
<line x1="102.30" y1="341.06" x2="105.72" y2="341.06" class="tk"/>
<line x1="822.17" y1="341.06" x2="819.17" y2="341.06" class="tg"/>
<line x1="102.30" y1="320.84" x2="105.72" y2="320.84" class="tk"/>
<line x1="822.17" y1="320.84" x2="819.17" y2="320.84" class="tg"/>
<line x1="102.30" y1="300.63" x2="107.92" y2="300.63" class="tk"/>
<line x1="822.17" y1="300.63" x2="815.97" y2="300.63" class="tg"/>
<line x1="102.30" y1="280.42" x2="105.72" y2="280.42" class="tk"/>
<line x1="822.17" y1="280.42" x2="819.17" y2="280.42" class="tg"/>
<line x1="102.30" y1="260.20" x2="105.72" y2="260.20" class="tk"/>
<line x1="822.17" y1="260.20" x2="819.17" y2="260.20" class="tg"/>
<line x1="102.30" y1="239.99" x2="105.72" y2="239.99" class="tk"/>
<line x1="822.17" y1="239.99" x2="819.17" y2="239.99" class="tg"/>
<line x1="102.30" y1="219.77" x2="105.72" y2="219.77" class="tk"/>
<line x1="822.17" y1="219.77" x2="819.17" y2="219.77" class="tg"/>
<line x1="102.30" y1="199.56" x2="107.92" y2="199.56" class="tk"/>
<line x1="822.17" y1="199.56" x2="815.97" y2="199.56" class="tg"/>
<line x1="102.30" y1="179.35" x2="105.72" y2="179.35" class="tk"/>
<line x1="822.17" y1="179.35" x2="819.17" y2="179.35" class="tg"/>
<line x1="102.30" y1="159.13" x2="105.72" y2="159.13" class="tk"/>
<line x1="822.17" y1="159.13" x2="819.17" y2="159.13" class="tg"/>
<line x1="102.30" y1="138.92" x2="105.72" y2="138.92" class="tk"/>
<line x1="822.17" y1="138.92" x2="819.17" y2="138.92" class="tg"/>
<line x1="102.30" y1="118.70" x2="105.72" y2="118.70" class="tk"/>
<line x1="822.17" y1="118.70" x2="819.17" y2="118.70" class="tg"/>
<line x1="102.30" y1="98.49" x2="107.92" y2="98.49" class="tk"/>
<line x1="822.17" y1="98.49" x2="815.97" y2="98.49" class="tg"/>
<line x1="102.30" y1="78.28" x2="105.72" y2="78.28" class="tk"/>
<line x1="822.17" y1="78.28" x2="819.17" y2="78.28" class="tg"/>
<line x1="102.30" y1="58.06" x2="105.72" y2="58.06" class="tk"/>
<line x1="822.17" y1="58.06" x2="819.17" y2="58.06" class="tg"/>
<line x1="102.30" y1="37.85" x2="105.72" y2="37.85" class="tk"/>
<line x1="822.17" y1="37.85" x2="819.17" y2="37.85" class="tg"/>
<line x1="102.30" y1="17.63" x2="105.72" y2="17.63" class="tk"/>
<line x1="822.17" y1="17.63" x2="819.17" y2="17.63" class="tg"/>
</g>
<rect x="102.3" y="6.0" width="720.7" height="445.6" fill="none" stroke="#000" stroke-width="1.65"/>
<g>
<text transform="translate(116.60,486.8) scale(1,1.04)" text-anchor="middle" class="t">0</text>
<text transform="translate(255.00,486.8) scale(1,1.04)" text-anchor="middle" class="t">2</text>
<text transform="translate(393.40,486.8) scale(1,1.04)" text-anchor="middle" class="t">4</text>
<text transform="translate(531.80,486.8) scale(1,1.04)" text-anchor="middle" class="t">6</text>
<text transform="translate(670.20,486.8) scale(1,1.04)" text-anchor="middle" class="t">8</text>
<text transform="translate(809.00,486.8) scale(1,1.04)" class="t">0</text>
<path d="M802.70,463.90L802.70,486.70L799.70,486.70L799.70,470.40L794.60,470.40L794.60,468.30C797.80,468.30 800.20,467.00 800.80,463.90Z" fill="#000"/>
<text transform="translate(97.5,412.10) scale(1,1.04)" text-anchor="end" class="t">0.0</text>
<text transform="translate(97.5,209.96) scale(1,1.04)" text-anchor="end" class="t">0.2</text>
<text transform="translate(97.5,108.89) scale(1,1.04)" text-anchor="end" class="t">0.3</text>
<text transform="translate(79.98,311.03) scale(1,1.04)" text-anchor="end" class="t">0.</text>
<path d="M91.00,288.13L91.00,310.93L88.00,310.93L88.00,294.63L82.90,294.63L82.90,292.53C86.10,292.53 88.50,291.23 89.10,288.13Z" fill="#000"/>
<text transform="translate(462.8,535.3) scale(1,1.015)" text-anchor="middle" class="t">p [GeV]</text>
</g>
<g transform="translate(35.0,0) rotate(-90) scale(1,1.07)">
<text class="t" y="0"><tspan x="-422.3" font-style="italic">G</tspan><tspan x="-396.5" dy="-14.8" font-size="22.5">CCA</tspan></text>
</g>
<g fill="none" stroke="#000" stroke-linecap="butt">
<path d="M19.05,259.8L19.05,280.7" stroke-width="2.3"/>
<path d="M20,265.9C25,266.6 29,267.3 31.5,267.2C33.5,267.1 34.4,266 34.6,264.4" stroke-width="2.4"/>
<path d="M20,274.8C25,275.6 29.5,277 32,279C33.3,280 34.2,281 34.8,282" stroke-width="2.5"/>
</g>
<g transform="translate(35.0,0) rotate(-90) scale(1,1.015)">
<text class="t" y="0"><tspan x="-346.4">(</tspan><tspan x="-336.3">p</tspan><tspan x="-319.6">,</tspan><tspan x="-309.3">p</tspan><tspan x="-293.4">,</tspan><tspan x="-259.6">/</tspan><tspan x="-249.9">3</tspan><tspan x="-233.4">)</tspan><tspan x="-214.0" letter-spacing="0.07">contributions</tspan></text>
</g>
<g>
<line x1="569.9" y1="45.50" x2="626.4" y2="45.50" stroke="#5e81b5" stroke-width="2.1" stroke-dasharray="16.6 16.6"/>
<text transform="translate(642.4,52.40) scale(1,1.025)" class="lg">Diagram <tspan dx="2.2">I</tspan></text>
<line x1="569.9" y1="97.40" x2="626.4" y2="97.40" stroke="#e19c24" stroke-width="2.1" stroke-dasharray="9.6 7.7"/>
<text transform="translate(642.4,104.30) scale(1,1.025)" class="lg">Diagram <tspan dx="2.2">II</tspan></text>
<line x1="569.9" y1="149.40" x2="626.4" y2="149.40" stroke="#8fb032" stroke-width="2.1" stroke-dasharray="3.6 3.6"/>
<text transform="translate(642.4,156.30) scale(1,1.025)" class="lg">Diagram <tspan dx="2.2">III</tspan></text>
<line x1="569.9" y1="201.20" x2="626.4" y2="201.20" stroke="#eb6235" stroke-width="2.1" stroke-dasharray="3.6 3.5 8.1 3.6"/>
<text transform="translate(642.4,208.10) scale(1,1.025)" class="lg">Diagram <tspan dx="2.2">IV</tspan></text>
<line x1="569.9" y1="253.10" x2="626.4" y2="253.10" stroke="#ff0000" stroke-width="2.1"/>
<text transform="translate(642.4,260.00)" class="lg" style="font-size:29.1px">Sum</text>
</g>
</svg>
</body></html>
